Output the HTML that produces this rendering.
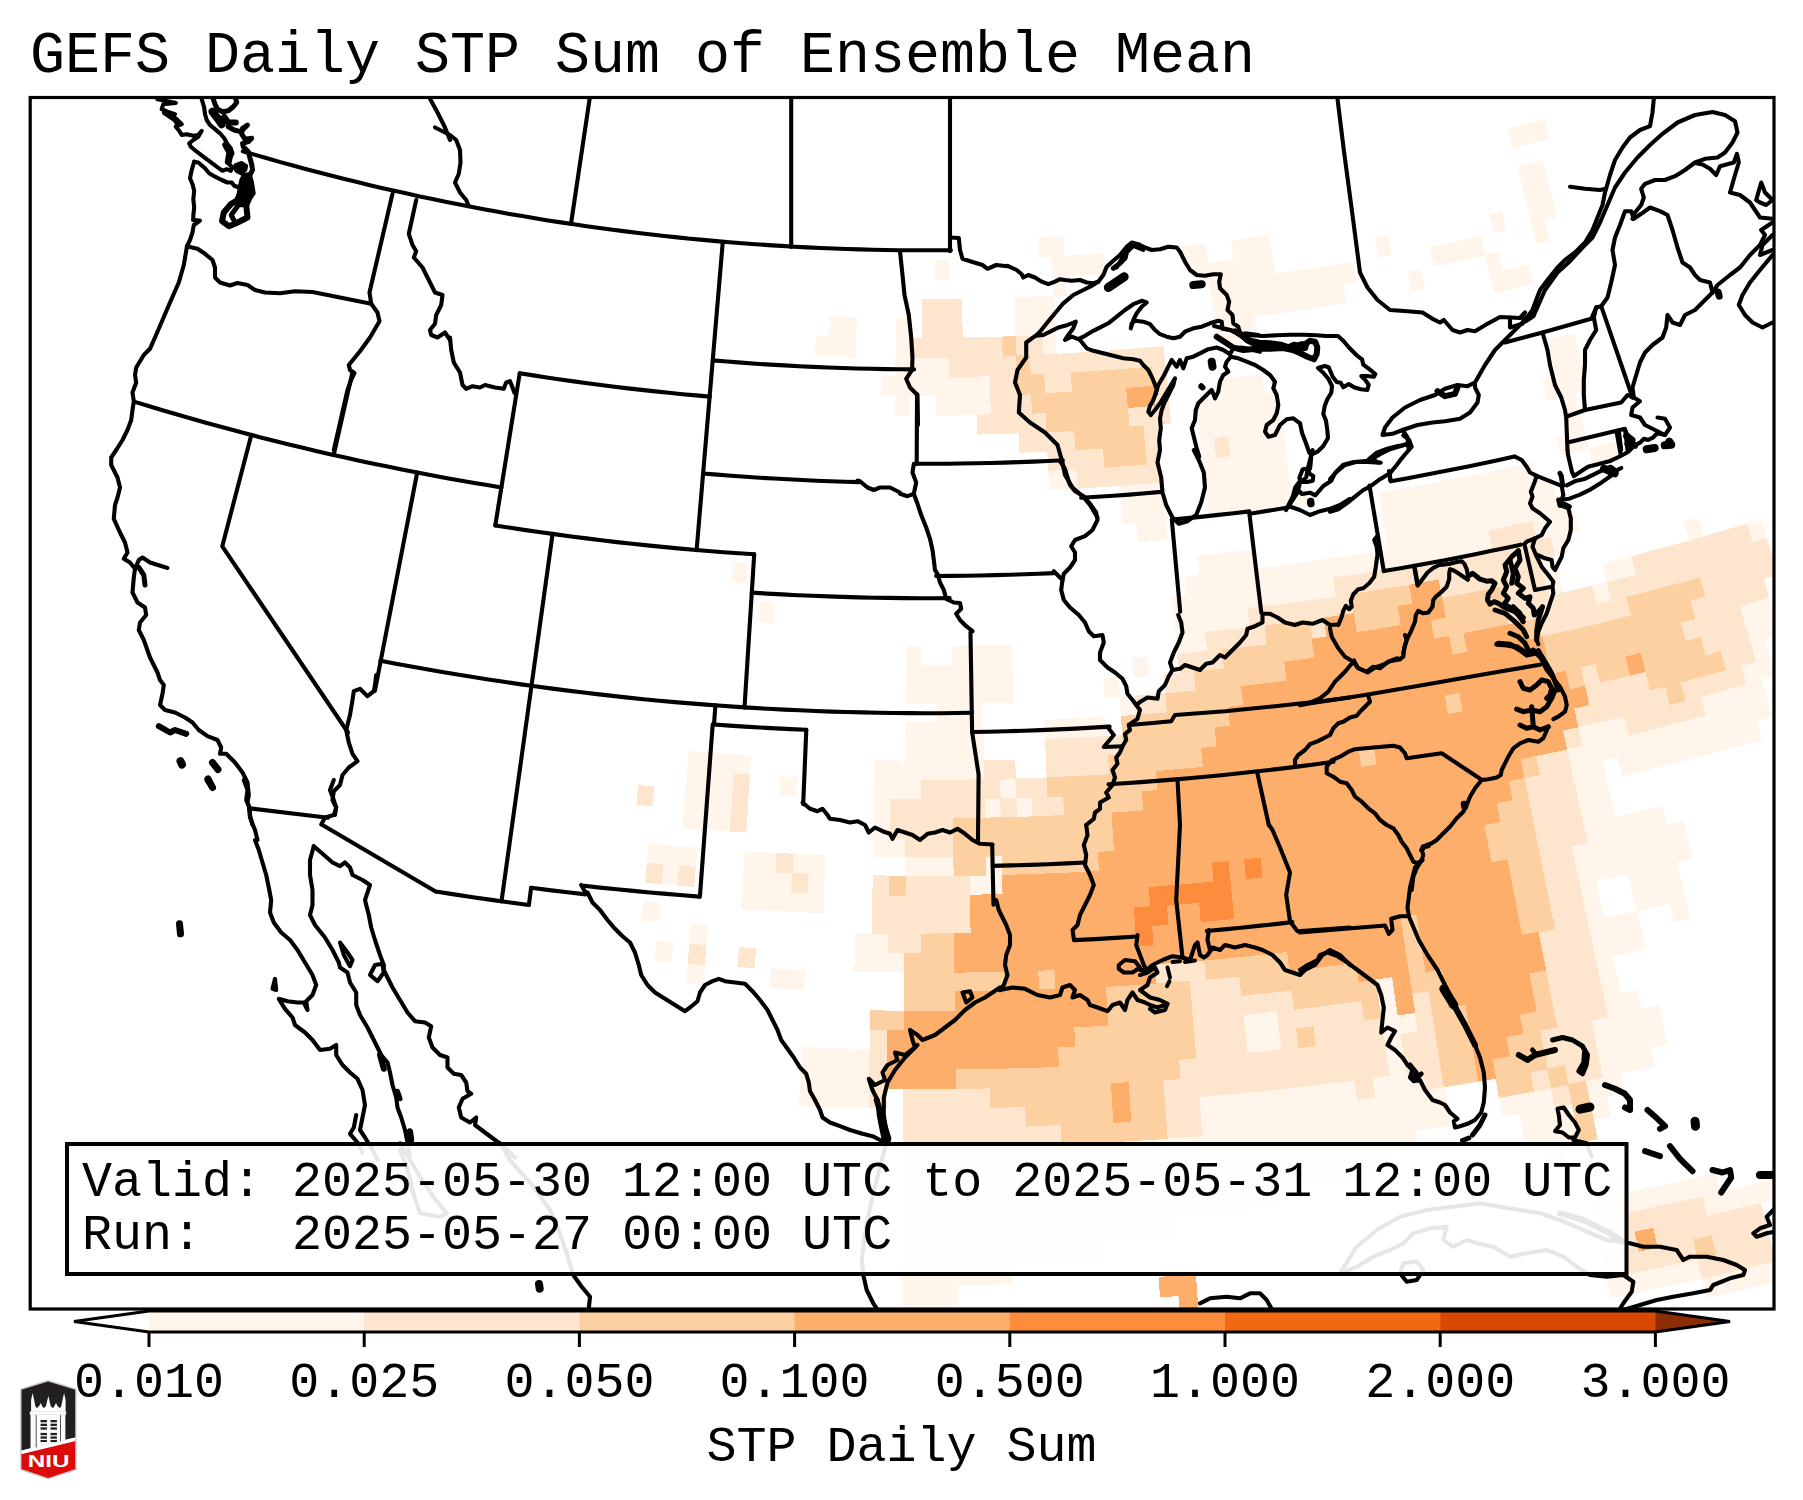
<!DOCTYPE html>
<html><head><meta charset="utf-8"><title>GEFS Daily STP Sum of Ensemble Mean</title>
<style>
html,body{margin:0;padding:0;background:#fff;}
body{width:1803px;height:1500px;overflow:hidden;}
svg{display:block;}
text{font-family:"Liberation Mono",monospace;fill:#000;white-space:pre;}
.b{fill:none;stroke:#000;stroke-width:4.1;stroke-linejoin:round;stroke-linecap:round;}
</style></head><body>
<svg width="1803" height="1500" viewBox="0 0 1803 1500">
<rect x="0" y="0" width="1803" height="1500" fill="#fff"/>
<text x="30" y="72.3" font-size="58.33">GEFS Daily STP Sum of Ensemble Mean</text>
<defs><clipPath id="mc"><rect x="30" y="97.5" width="1744" height="1211.5"/></clipPath></defs>
<g clip-path="url(#mc)">
<g id="fills" shape-rendering="crispEdges"><path fill="#fff5eb" d="M1701.9,1278.3L1775.5,1260.9L1780.5,1280.9L1706.4,1298.4ZM1606.2,1278.1L1679.3,1262.8L1752.0,1246.1L1770.7,1241.5L1775.6,1261.5L1702.6,1278.8L1629.2,1294.5L1610.2,1298.3ZM1602.4,1258.5L1675.0,1243.4L1747.3,1226.7L1765.9,1222.2L1770.8,1242.1L1698.2,1259.3L1625.2,1274.9L1606.4,1278.7ZM1178.4,1295.4L1197.3,1294.0L1198.9,1314.5L1179.9,1315.9ZM1598.5,1239.0L1670.7,1224.0L1742.6,1207.4L1761.1,1202.9L1766.1,1222.8L1693.8,1239.8L1621.3,1255.4L1602.5,1259.1ZM902.1,1284.6L957.7,1284.6L957.9,1305.0L901.9,1305.1ZM1158.6,1276.9L1195.8,1274.2L1197.4,1294.7L1160.0,1297.4ZM1594.7,1219.5L1666.5,1204.6L1738.0,1188.1L1774.1,1179.1L1779.2,1199.0L1707.5,1216.3L1635.4,1232.2L1598.7,1239.6ZM902.2,1264.8L975.2,1264.6L1012.2,1263.9L1012.7,1284.3L939.3,1285.3L902.1,1285.2ZM1590.9,1200.1L1662.3,1185.2L1716.2,1173.0L1720.9,1192.8L1649.3,1209.0L1594.8,1220.2ZM902.4,1245.1L974.9,1244.8L1047.4,1243.0L1102.3,1240.7L1103.3,1261.0L1030.4,1264.0L957.5,1265.4L902.2,1265.4ZM1604.8,1177.2L1623.1,1173.4L1627.3,1193.4L1608.9,1197.2ZM902.5,1225.4L974.6,1225.1L1046.7,1223.3L1118.7,1220.0L1173.2,1216.5L1174.7,1236.8L1102.3,1241.3L1029.9,1244.2L957.3,1245.7L902.4,1245.7ZM902.7,1205.7L974.3,1205.4L1046.0,1203.7L1117.6,1200.4L1189.1,1195.6L1260.5,1189.3L1278.9,1187.4L1281.0,1207.6L1209.2,1214.3L1137.3,1219.6L1065.3,1223.3L993.2,1225.4L921.1,1226.1L902.5,1226.0ZM1544.2,1148.8L1562.4,1145.4L1566.2,1165.4L1547.9,1168.8ZM902.8,1186.0L974.1,1185.8L1045.3,1184.1L1116.5,1180.8L1187.6,1176.0L1258.5,1169.7L1329.4,1161.9L1382.9,1155.0L1385.7,1175.1L1314.6,1184.1L1243.3,1191.6L1171.8,1197.5L1100.3,1202.0L1028.7,1204.9L957.0,1206.3L902.7,1206.3ZM1523.1,1132.8L1593.6,1119.2L1597.7,1139.1L1526.7,1152.7ZM903.0,1166.4L973.8,1166.2L1044.6,1164.5L1115.4,1161.2L1186.0,1156.5L1256.6,1150.2L1327.0,1142.5L1397.2,1133.2L1415.3,1130.6L1418.3,1150.6L1347.7,1160.3L1276.9,1168.5L1205.9,1175.2L1134.9,1180.3L1063.7,1184.0L992.5,1186.1L921.2,1186.8L902.8,1186.7ZM1519.6,1113.5L1589.2,1100.1L1607.1,1096.5L1611.2,1116.3L1541.3,1130.1L1523.2,1133.4ZM903.1,1146.9L973.5,1146.7L1043.9,1144.9L1114.3,1141.7L1184.5,1137.0L1254.7,1130.8L1324.7,1123.1L1394.5,1113.9L1447.3,1105.9L1450.4,1125.9L1380.4,1136.2L1310.1,1145.1L1239.6,1152.5L1169.0,1158.4L1098.3,1162.8L1027.5,1165.7L956.7,1167.0L902.9,1167.1ZM1498.8,1097.3L1568.0,1084.4L1620.3,1073.7L1624.6,1093.4L1555.1,1107.5L1502.3,1117.2ZM903.2,1127.4L973.2,1127.1L1043.2,1125.4L1113.2,1122.2L1183.0,1117.5L1252.7,1111.3L1322.3,1103.7L1391.7,1094.5L1444.2,1086.6L1447.4,1106.5L1377.7,1116.8L1307.8,1125.7L1237.8,1133.0L1167.6,1138.9L1097.3,1143.2L1026.9,1146.1L956.5,1147.5L903.1,1147.5ZM1495.4,1078.1L1564.3,1065.2L1632.8,1051.0L1650.4,1047.1L1654.9,1066.7L1586.0,1081.5L1516.8,1094.7L1498.9,1097.9ZM903.4,1107.9L973.0,1107.6L1042.5,1105.9L1112.1,1102.7L1181.5,1098.1L1250.8,1091.9L1320.0,1084.3L1389.0,1075.2L1457.8,1064.7L1526.3,1052.7L1594.6,1039.2L1663.1,1024.2L1667.6,1043.8L1599.2,1058.8L1530.6,1072.3L1461.6,1084.4L1392.4,1095.1L1323.0,1104.2L1253.4,1111.9L1183.6,1118.1L1113.8,1122.8L1043.8,1126.0L973.8,1127.7L903.2,1128.0ZM799.8,1086.0L868.9,1087.9L886.8,1088.2L886.5,1108.3L816.9,1106.7L799.0,1106.0ZM903.5,1088.4L972.7,1088.2L1041.9,1086.5L1111.0,1083.3L1180.0,1078.7L1248.9,1072.5L1317.7,1065.0L1386.2,1055.9L1454.6,1045.5L1522.8,1033.5L1590.6,1020.1L1658.7,1005.2L1663.3,1024.8L1595.3,1039.7L1527.0,1053.2L1458.4,1065.2L1389.6,1075.8L1320.6,1084.9L1251.4,1092.5L1182.1,1098.6L1112.7,1103.3L1043.1,1106.5L973.5,1108.2L903.4,1108.5ZM800.6,1066.5L869.3,1068.5L938.0,1069.0L1006.8,1068.1L1075.5,1065.6L1144.2,1061.8L1212.7,1056.4L1281.2,1049.6L1349.4,1041.4L1417.5,1031.7L1485.4,1020.5L1553.0,1007.9L1620.3,993.9L1637.6,990.1L1642.0,1009.6L1574.4,1024.1L1506.4,1037.2L1438.2,1048.7L1369.7,1058.9L1301.1,1067.6L1232.3,1074.8L1163.3,1080.5L1094.3,1084.8L1025.1,1087.6L956.0,1089.0L886.8,1088.8L817.6,1087.2L799.8,1086.6ZM801.3,1047.1L869.6,1049.1L938.0,1049.6L1006.3,1048.7L1074.6,1046.2L1142.9,1042.4L1211.0,1037.1L1279.0,1030.3L1346.9,1022.1L1414.6,1012.5L1482.0,1001.4L1549.2,988.9L1616.7,974.8L1621.0,994.4L1553.6,1008.4L1486.0,1021.0L1418.1,1032.2L1350.1,1041.9L1281.8,1050.2L1213.3,1057.0L1144.8,1062.3L1076.1,1066.2L1007.4,1068.7L938.6,1069.6L869.8,1069.1L800.5,1067.2ZM870.0,1029.7L937.9,1030.2L1005.9,1029.3L1073.8,1026.9L1141.6,1023.0L1209.3,1017.8L1276.9,1011.1L1344.4,1002.9L1411.6,993.3L1478.7,982.3L1545.5,969.9L1612.5,955.9L1616.8,975.4L1549.9,989.4L1482.7,1001.9L1415.2,1013.0L1347.5,1022.7L1279.7,1030.9L1211.6,1037.7L1143.5,1043.0L1075.2,1046.8L1006.9,1049.3L938.5,1050.2L869.6,1049.7ZM870.3,1010.4L937.9,1010.9L1005.4,1009.9L1072.9,1007.5L1140.3,1003.7L1207.6,998.5L1274.8,991.8L1341.8,983.7L1408.7,974.2L1475.3,963.2L1541.7,950.9L1607.8,937.1L1641.3,929.6L1645.8,949.0L1579.4,963.6L1512.7,976.8L1445.8,988.5L1378.6,998.8L1311.3,1007.7L1243.7,1015.2L1176.1,1021.2L1108.3,1025.7L1040.4,1028.9L972.4,1030.5L904.5,1030.8L870.0,1030.3ZM904.2,991.4L971.4,991.2L1038.4,989.6L1105.5,986.5L1172.5,982.0L1239.3,976.1L1306.0,968.7L1372.6,960.0L1438.9,949.8L1505.0,938.2L1570.9,925.2L1636.9,910.7L1641.4,930.2L1575.5,944.7L1509.2,957.7L1442.7,969.4L1375.9,979.7L1309.0,988.5L1241.8,995.9L1174.5,1001.9L1107.2,1006.4L1039.7,1009.5L972.2,1011.2L904.1,1011.4ZM1669.1,903.1L1685.9,899.0L1690.7,918.4L1673.8,922.5ZM687.8,963.0L705.0,964.3L703.6,984.2L686.3,982.9ZM771.0,968.3L804.9,969.8L804.1,989.7L770.0,988.2ZM904.4,972.1L971.1,971.9L1037.8,970.3L1104.4,967.2L1171.0,962.7L1237.4,956.9L1303.7,949.6L1369.8,940.9L1435.8,930.7L1501.5,919.2L1566.9,906.3L1600.1,899.2L1604.3,918.7L1538.6,932.4L1472.6,944.7L1406.4,955.6L1339.9,965.1L1273.3,973.1L1206.5,979.8L1139.6,985.0L1072.5,988.8L1005.5,991.2L938.3,992.1L904.2,992.1ZM1632.1,892.0L1681.3,880.3L1686.0,899.6L1636.6,911.5ZM656.3,941.1L673.3,942.5L671.7,962.4L654.5,960.9ZM689.3,943.8L706.3,945.1L704.9,964.9L687.8,963.7ZM738.9,947.2L756.0,948.2L754.9,968.1L737.7,967.1ZM854.8,952.1L921.1,952.9L987.4,952.3L1053.6,950.4L1119.9,947.0L1186.0,942.2L1252.0,936.0L1317.8,928.4L1383.5,919.4L1449.0,909.0L1514.2,897.2L1579.2,884.0L1595.9,880.4L1600.2,899.8L1534.9,913.5L1469.3,925.7L1403.5,936.5L1337.4,945.9L1271.2,953.9L1204.8,960.5L1138.3,965.7L1071.7,969.5L1005.0,971.9L938.3,972.8L871.6,972.3L854.3,972.0ZM1627.7,873.2L1676.6,861.5L1681.4,880.9L1632.2,892.6ZM690.8,924.6L707.7,925.8L706.3,945.7L689.2,944.4ZM855.3,932.8L921.1,933.6L987.0,933.1L1052.9,931.1L1118.7,927.7L1184.4,923.0L1250.0,916.8L1315.4,909.2L1380.7,900.3L1445.8,890.0L1510.6,878.2L1575.2,865.2L1639.4,850.7L1688.0,838.8L1692.8,858.1L1628.4,873.7L1563.6,887.9L1498.6,900.8L1433.3,912.2L1367.7,922.3L1302.0,931.0L1236.1,938.2L1170.0,944.1L1103.9,948.5L1037.6,951.6L971.4,953.2L905.0,953.5L854.8,952.7ZM643.3,901.2L660.1,902.8L658.4,922.6L641.5,921.0ZM872.1,913.9L937.5,914.4L1003.0,913.5L1068.4,911.1L1133.8,907.5L1199.1,902.4L1264.2,895.9L1329.2,888.0L1394.1,878.8L1458.7,868.2L1523.0,856.2L1587.1,842.9L1650.9,828.2L1683.2,820.2L1688.1,839.4L1624.1,854.9L1559.7,869.1L1495.0,881.8L1430.1,893.2L1365.0,903.2L1299.7,911.8L1234.2,919.0L1168.5,924.9L1102.8,929.3L1037.0,932.3L971.1,933.9L905.2,934.2L871.7,933.8ZM742.4,889.5L807.4,892.8L824.2,893.4L823.5,913.2L758.1,910.3L741.2,909.4ZM872.4,894.6L937.5,895.1L1002.5,894.2L1067.6,891.9L1132.5,888.3L1197.4,883.2L1262.1,876.8L1326.7,869.0L1391.1,859.8L1455.4,849.2L1519.3,837.3L1583.0,824.1L1646.4,809.4L1662.7,805.5L1667.5,824.7L1603.8,839.8L1539.7,853.5L1475.4,865.8L1410.9,876.8L1346.1,886.4L1281.1,894.6L1216.0,901.4L1150.7,906.9L1085.3,910.9L1019.9,913.6L954.4,914.9L889.0,914.8L872.1,914.5ZM646.9,862.9L695.7,867.1L694.2,886.9L645.0,882.7ZM743.6,870.3L808.1,873.6L824.8,874.2L824.1,894.0L759.1,891.1L742.4,890.2ZM872.8,875.4L937.4,875.9L1002.1,875.0L1066.7,872.7L1131.2,869.1L1195.7,864.0L1260.0,857.7L1324.2,849.9L1388.2,840.8L1452.0,830.3L1515.6,818.5L1578.9,805.3L1610.9,798.1L1615.4,817.4L1551.8,831.4L1488.0,844.0L1423.9,855.2L1359.6,865.1L1295.0,873.6L1230.4,880.7L1165.5,886.5L1100.6,890.8L1035.6,893.8L970.5,895.4L905.5,895.7L872.4,895.3ZM648.6,843.8L697.2,847.9L695.6,867.7L646.8,863.5ZM744.7,851.2L808.9,854.4L825.4,855.0L824.8,874.8L760.2,871.9L743.5,871.0ZM905.2,856.6L969.5,856.4L1033.7,854.8L1097.9,851.9L1162.0,847.6L1226.0,841.9L1289.8,834.9L1353.5,826.5L1417.0,816.7L1480.3,805.7L1543.4,793.2L1606.6,779.3L1611.1,798.7L1547.9,812.5L1484.5,825.1L1420.8,836.2L1356.9,846.0L1292.7,854.5L1228.5,861.6L1164.0,867.3L1099.5,871.6L1034.9,874.6L970.3,876.2L905.1,876.4ZM873.4,837.0L937.3,837.5L1001.1,836.6L1064.9,834.3L1128.7,830.7L1192.3,825.8L1255.8,819.5L1319.2,811.8L1382.4,802.8L1445.4,792.5L1508.2,780.8L1570.7,767.8L1602.3,760.6L1606.8,779.9L1544.0,793.7L1481.0,806.2L1417.7,817.3L1354.1,827.0L1290.4,835.4L1226.6,842.5L1162.5,848.1L1098.4,852.5L1034.2,855.4L970.0,857.0L905.7,857.2L873.1,856.8ZM1617.4,757.1L1679.3,741.8L1741.0,725.1L1756.8,720.6L1762.3,739.7L1700.3,756.8L1638.0,772.6L1621.9,776.4ZM683.8,808.3L747.5,812.9L746.3,832.6L682.1,828.1ZM873.8,817.8L937.2,818.3L1000.6,817.4L1064.0,815.2L1127.4,811.6L1190.6,806.7L1253.7,800.4L1316.7,792.8L1379.5,783.8L1442.1,773.6L1504.5,761.9L1566.6,749.0L1628.4,734.8L1689.9,719.2L1751.0,702.3L1766.7,697.8L1772.3,716.8L1710.8,734.1L1649.0,750.1L1586.9,764.8L1524.4,778.1L1461.7,790.2L1398.8,800.9L1335.6,810.2L1272.3,818.2L1208.8,824.9L1145.1,830.2L1081.4,834.2L1017.6,836.7L953.8,838.0L889.9,837.9L873.4,837.6ZM638.3,785.0L654.4,786.5L652.6,806.2L636.3,804.7ZM685.3,789.2L748.7,793.7L747.5,813.5L683.7,808.9ZM874.1,798.6L937.2,799.1L1000.2,798.2L1063.2,796.0L1126.1,792.4L1188.9,787.6L1251.6,781.3L1314.2,773.8L1376.6,764.9L1438.8,754.7L1500.7,743.1L1562.4,730.3L1623.9,716.1L1685.0,700.7L1745.7,683.9L1761.3,679.4L1766.9,698.4L1705.8,715.6L1644.4,731.5L1582.7,746.1L1520.6,759.3L1458.3,771.3L1395.8,781.9L1333.0,791.2L1270.1,799.2L1207.0,805.8L1143.7,811.1L1080.4,815.0L1017.0,817.6L953.6,818.8L890.2,818.7L873.8,818.4ZM686.9,770.1L749.9,774.6L748.7,794.3L685.3,789.8ZM780.6,776.3L796.8,777.0L795.9,796.8L779.6,796.0ZM874.5,779.5L937.1,779.9L999.7,779.1L1062.3,776.9L1124.8,773.3L1187.2,768.5L1249.5,762.3L1311.7,754.8L1373.7,745.9L1435.5,735.8L1497.0,724.3L1558.3,711.5L1619.3,697.5L1680.1,682.1L1740.4,665.5L1770.9,656.5L1776.6,675.5L1716.0,692.9L1655.1,709.0L1593.8,723.8L1532.2,737.4L1470.4,749.6L1408.3,760.5L1346.0,770.0L1283.5,778.3L1220.9,785.2L1158.1,790.7L1095.2,795.0L1032.2,797.9L969.2,799.4L906.1,799.7L874.1,799.3ZM688.5,751.0L751.0,755.5L749.8,775.2L686.8,770.7ZM874.8,760.3L937.0,760.8L999.2,759.9L1015.3,759.5L1015.9,779.2L953.3,780.4L890.6,780.3L874.5,780.1ZM1045.9,758.4L1108.0,755.2L1170.0,750.7L1232.0,744.9L1293.8,737.7L1355.4,729.3L1416.8,719.5L1478.1,708.5L1539.0,696.1L1599.7,682.5L1660.1,667.5L1720.2,651.3L1765.4,638.2L1771.1,657.1L1710.9,674.4L1650.4,690.4L1589.5,705.2L1528.3,718.6L1466.9,730.7L1405.2,741.5L1343.3,751.0L1281.2,759.2L1219.0,766.1L1156.6,771.6L1094.1,775.8L1046.7,778.1ZM906.1,741.5L967.9,741.3L983.8,741.1L984.2,760.8L922.0,761.4L905.9,761.3ZM1045.1,739.2L1106.8,736.1L1168.4,731.6L1230.0,725.8L1291.4,718.7L1352.6,710.3L1413.6,700.6L1474.5,689.7L1535.0,677.4L1595.3,663.8L1655.3,649.0L1715.0,632.9L1774.7,615.3L1780.5,634.2L1720.8,651.8L1660.7,668.0L1600.3,682.9L1539.6,696.6L1478.7,709.0L1417.4,720.1L1356.0,729.8L1294.3,738.3L1232.5,745.4L1170.6,751.3L1108.5,755.8L1045.9,759.0ZM906.2,722.4L967.6,722.2L983.4,721.9L983.8,741.7L922.0,742.2L906.1,742.1ZM1044.3,720.1L1106.1,716.9L1107.3,736.6L1045.1,739.8ZM1120.9,716.0L1182.2,711.2L1243.2,705.1L1304.2,697.8L1365.0,689.1L1425.6,679.1L1485.9,667.9L1546.0,655.4L1605.8,641.6L1665.4,626.5L1724.5,610.2L1769.2,597.0L1774.9,615.9L1715.6,633.3L1655.9,649.4L1595.9,664.3L1535.6,677.9L1475.1,690.2L1414.2,701.2L1353.2,710.9L1291.9,719.3L1230.5,726.4L1169.0,732.2L1122.3,735.7ZM936.8,703.3L983.1,702.8L983.5,722.5L936.9,723.0ZM1119.7,696.8L1180.5,692.1L1241.1,686.1L1301.7,678.8L1362.1,670.2L1422.2,660.3L1482.2,649.1L1541.9,636.7L1601.3,623.0L1660.5,608.0L1719.2,591.8L1763.6,578.7L1769.3,597.6L1710.4,614.9L1651.1,630.9L1591.5,645.7L1531.6,659.1L1471.4,671.3L1411.0,682.3L1350.4,691.9L1289.5,700.3L1228.5,707.3L1167.4,713.1L1121.0,716.6ZM906.5,684.1L967.1,683.9L1013.0,682.9L1013.6,702.6L952.6,703.8L906.3,703.8ZM1103.3,678.7L1118.9,677.7L1120.2,697.4L1104.5,698.4ZM1163.7,674.3L1224.0,668.7L1284.2,661.7L1344.2,653.5L1404.0,644.0L1463.6,633.2L1523.0,621.2L1582.1,607.9L1640.9,593.3L1699.4,577.5L1757.5,560.5L1772.5,555.9L1778.3,574.8L1719.9,592.3L1661.1,608.5L1602.0,623.5L1542.5,637.2L1482.8,649.6L1422.8,660.8L1362.6,670.7L1302.3,679.3L1241.7,686.6L1181.0,692.7L1165.3,694.0ZM906.6,664.9L966.8,664.7L1012.4,663.7L1013.0,683.5L952.4,684.6L906.5,684.7ZM1132.1,657.6L1147.6,656.4L1149.1,676.1L1133.5,677.3ZM1177.1,653.9L1237.0,648.0L1296.7,640.8L1356.3,632.3L1415.6,622.5L1474.8,611.5L1533.7,599.3L1592.3,585.7L1650.7,571.0L1708.7,555.0L1766.8,537.6L1772.6,556.5L1714.6,573.8L1656.2,590.0L1597.4,604.8L1538.4,618.5L1479.1,630.8L1419.5,641.9L1359.7,651.8L1299.8,660.3L1239.6,667.6L1178.8,673.6ZM906.8,645.7L922.2,645.8L922.2,665.6L906.6,665.5ZM951.6,645.7L1011.8,644.6L1012.4,664.3L951.8,665.5ZM1175.4,634.9L1234.9,629.0L1294.2,621.8L1353.4,613.4L1412.3,603.7L1471.1,592.7L1529.6,580.5L1559.2,573.9L1563.7,593.1L1504.9,606.1L1445.8,617.7L1386.6,628.1L1327.1,637.2L1267.4,645.1L1207.6,651.7L1177.1,654.6ZM1602.3,563.6L1660.2,548.6L1717.7,532.4L1761.1,519.3L1767.0,538.2L1709.3,555.4L1651.3,571.4L1607.1,582.8ZM1173.7,615.8L1232.8,609.9L1291.7,602.8L1350.5,594.4L1409.0,584.8L1467.4,573.9L1525.5,561.8L1554.9,555.2L1559.4,574.5L1501.0,587.3L1442.3,598.9L1383.4,609.2L1324.4,618.3L1265.1,626.1L1205.7,632.6L1175.4,635.5ZM1683.8,522.2L1698.5,518.0L1704.0,537.0L1689.2,541.2ZM759.8,602.4L775.0,603.3L773.9,623.1L758.6,622.2ZM1172.0,596.7L1230.7,590.9L1289.2,583.8L1347.5,575.5L1405.7,565.9L1463.7,555.1L1521.4,543.1L1564.9,533.2L1569.5,552.4L1511.6,565.5L1453.4,577.3L1395.0,587.8L1336.3,597.2L1277.5,605.2L1218.5,612.1L1173.8,616.4ZM1184.9,576.3L1243.1,570.2L1301.2,562.8L1359.1,554.3L1416.8,544.5L1474.3,533.4L1531.6,521.2L1574.8,511.1L1579.4,530.3L1522.0,543.6L1464.3,555.6L1406.3,566.4L1348.1,576.0L1289.7,584.3L1231.2,591.4L1186.7,596.0ZM733.1,562.2L748.1,563.2L746.8,583.0L731.7,582.0ZM1197.6,555.8L1255.8,549.3L1258.2,569.0L1199.5,575.5ZM1384.8,530.6L1442.0,520.3L1499.0,508.7L1555.7,496.0L1570.3,492.5L1574.9,511.7L1517.9,524.9L1460.5,536.8L1403.0,547.6L1388.1,550.1ZM1381.6,511.7L1438.4,501.4L1494.9,489.9L1551.7,477.2L1556.3,496.4L1499.5,509.2L1442.6,520.8L1384.9,531.2ZM1136.7,522.6L1165.7,520.2L1167.4,539.9L1138.2,542.4ZM1378.4,492.7L1434.8,482.6L1490.9,471.2L1533.3,461.7L1537.8,481.1L1481.4,493.4L1424.8,504.6L1381.7,512.3ZM1588.6,448.4L1616.8,441.1L1621.9,460.2L1593.5,467.6ZM1121.0,504.5L1164.0,501.0L1165.7,520.8L1122.4,524.3ZM1206.0,497.0L1262.6,490.5L1305.3,484.7L1308.1,504.3L1251.3,511.8L1208.1,516.7ZM1556.3,436.6L1584.3,429.6L1589.2,448.9L1560.9,455.9ZM1119.6,485.3L1162.3,481.9L1164.0,501.7L1121.0,505.1ZM1204.0,477.9L1260.1,471.4L1288.6,467.6L1291.3,487.3L1234.8,494.4L1206.1,497.6ZM1565.5,414.5L1579.6,411.0L1584.5,430.2L1570.2,433.8ZM1048.2,470.3L1104.2,467.1L1160.6,462.7L1162.3,482.5L1106.0,486.9L1049.1,490.1ZM1202.0,458.7L1257.7,452.3L1286.0,448.6L1288.7,468.2L1232.6,475.3L1204.1,478.5ZM1560.8,395.9L1574.9,392.3L1579.8,411.6L1565.6,415.1ZM1047.3,451.0L1102.9,447.9L1158.9,443.5L1160.6,463.3L1104.7,467.7L1048.3,470.9ZM1200.0,439.6L1255.3,433.2L1283.4,429.5L1286.1,449.2L1230.4,456.2L1202.1,459.3ZM1542.7,380.5L1583.6,370.2L1588.6,389.5L1547.4,399.8ZM1018.8,432.9L1074.1,430.4L1129.2,426.7L1157.2,424.3L1158.9,444.1L1103.4,448.5L1047.8,451.6L1019.5,452.8ZM1198.0,420.4L1252.9,414.0L1280.7,410.4L1283.4,430.1L1228.2,437.1L1200.1,440.2ZM1551.6,358.4L1578.8,351.5L1583.8,370.8L1556.4,377.8ZM977.0,414.7L1031.9,413.1L1086.7,410.3L1141.4,406.3L1169.1,403.9L1171.0,423.7L1115.9,428.3L1060.7,431.7L1005.5,433.9L977.4,434.6ZM1196.0,401.2L1250.5,394.9L1278.1,391.2L1280.8,411.0L1226.0,417.9L1198.1,421.0ZM1547.0,339.7L1574.0,332.9L1579.0,352.1L1551.7,359.0ZM895.0,395.7L909.0,395.8L908.9,415.8L894.7,415.6ZM935.8,395.9L990.3,395.1L1044.7,393.2L1099.1,390.1L1153.3,385.9L1167.3,384.6L1169.2,404.5L1114.5,409.0L1059.7,412.4L1004.9,414.7L950.1,415.7L935.9,415.8ZM1221.0,379.0L1262.0,373.9L1264.6,393.7L1223.3,398.8ZM881.7,376.1L935.8,376.5L989.8,375.8L1043.8,373.9L1097.8,370.8L1151.6,366.6L1165.5,365.3L1167.4,385.2L1113.1,389.8L1058.8,393.1L1004.3,395.3L949.9,396.4L895.4,396.3L881.4,396.1ZM895.5,356.9L949.1,357.1L1002.7,356.0L1056.3,353.9L1109.8,350.5L1163.7,346.1L1165.6,366.0L1111.7,370.5L1057.8,373.8L1003.8,376.0L949.7,377.0L895.2,376.9ZM815.9,335.3L856.3,336.7L855.7,356.8L815.1,355.3ZM895.7,337.5L948.9,337.7L1002.1,336.6L1055.7,334.5L1056.8,354.5L1003.2,356.6L949.5,357.7L895.5,357.6ZM1214.4,321.2L1254.4,316.3L1257.0,336.1L1216.7,341.1ZM1489.5,273.8L1528.8,264.4L1533.6,283.8L1494.0,293.3ZM830.0,316.4L856.8,317.3L856.2,337.4L829.2,336.4ZM896.0,318.1L909.6,318.2L909.5,338.3L895.7,338.2ZM922.4,318.3L962.4,318.1L962.7,338.1L922.3,338.4ZM1014.8,316.8L1054.7,315.0L1055.8,335.1L1015.5,336.8ZM1212.1,301.9L1264.5,295.3L1316.8,287.6L1343.2,283.2L1346.6,303.0L1294.0,311.4L1241.3,318.6L1214.4,321.9ZM1407.7,271.4L1421.1,268.7L1425.1,288.4L1411.6,291.1ZM1485.2,254.8L1498.4,251.7L1503.0,271.3L1489.7,274.4ZM922.4,298.8L962.1,298.6L962.4,318.7L922.4,318.9ZM1014.1,297.3L1053.7,295.6L1054.8,315.7L1014.8,317.4ZM1209.9,282.6L1261.9,276.0L1313.7,268.4L1352.9,261.8L1356.3,281.6L1304.2,290.2L1251.9,297.6L1212.2,302.5ZM1429.6,247.1L1481.2,235.8L1485.7,255.4L1433.7,266.8ZM1531.7,223.6L1544.8,220.2L1549.8,239.7L1536.6,243.0ZM1052.3,276.2L1065.7,275.4L1066.9,295.5L1053.4,296.2ZM1194.8,264.7L1246.4,258.4L1272.5,254.9L1275.4,274.8L1223.4,281.6L1197.0,284.7ZM1374.7,238.1L1387.8,235.6L1391.6,255.3L1378.3,257.9ZM1489.1,213.9L1502.1,210.8L1506.8,230.4L1493.7,233.5ZM1526.9,204.7L1552.5,198.1L1557.6,217.5L1531.9,224.2ZM935.4,259.8L948.7,259.7L948.9,279.9L935.5,280.0ZM1051.3,256.6L1103.2,253.4L1104.7,273.5L1052.4,276.8ZM1179.8,246.6L1205.8,243.8L1208.2,263.8L1181.9,266.7ZM1231.0,240.7L1269.8,235.5L1272.6,255.5L1233.6,260.7ZM1522.1,185.7L1547.5,179.2L1552.6,198.7L1527.1,205.3ZM1037.6,237.7L1063.5,236.4L1064.6,256.6L1038.5,257.9ZM1517.3,166.8L1542.5,160.2L1547.7,179.8L1522.3,186.3ZM1507.7,128.7L1544.6,119.0L1549.9,138.6L1512.7,148.4Z"/>
<path fill="#fee6ce" d="M1697.5,1258.8L1770.7,1241.5L1775.6,1261.5L1702.0,1278.9ZM1620.6,1254.9L1693.1,1239.4L1765.9,1222.2L1770.8,1242.1L1698.2,1259.3L1624.6,1275.0ZM1178.4,1295.4L1197.3,1294.0L1198.9,1314.5L1179.9,1315.9ZM1616.6,1235.4L1688.8,1220.0L1761.1,1202.9L1766.1,1222.8L1693.8,1239.8L1620.7,1255.5ZM1158.6,1276.9L1195.8,1274.2L1197.4,1294.7L1160.0,1297.4ZM1612.7,1215.9L1684.4,1200.6L1702.9,1196.4L1707.5,1216.3L1635.4,1232.2L1616.7,1236.0ZM1575.6,1122.8L1593.6,1119.2L1597.7,1139.1L1579.5,1142.7ZM1571.8,1103.6L1589.8,1100.0L1593.8,1119.8L1575.7,1123.5ZM1550.8,1087.8L1585.9,1080.8L1589.9,1100.6L1554.6,1107.6ZM903.2,1127.4L973.2,1127.1L1043.2,1125.4L1113.2,1122.2L1183.0,1117.5L1201.0,1116.1L1202.7,1136.1L1132.4,1141.2L1062.1,1144.9L991.7,1147.0L921.3,1147.6L903.1,1147.5ZM1495.4,1078.1L1564.3,1065.2L1599.1,1058.2L1603.2,1077.9L1534.1,1091.6L1498.9,1097.9ZM903.4,1107.9L973.0,1107.6L1042.5,1105.9L1112.1,1102.7L1181.5,1098.1L1199.4,1096.6L1201.1,1116.7L1131.2,1121.8L1061.3,1125.3L991.3,1127.4L921.3,1128.1L903.2,1128.0ZM1354.5,1079.9L1372.3,1077.6L1375.0,1097.5L1357.1,1099.9ZM1423.4,1070.1L1492.1,1058.9L1560.5,1046.1L1595.1,1039.1L1599.2,1058.8L1530.6,1072.3L1461.6,1084.4L1426.5,1090.0ZM868.9,1087.9L886.8,1088.2L886.5,1108.3L868.6,1108.0ZM903.5,1088.4L972.7,1088.2L1041.9,1086.5L1111.0,1083.3L1180.0,1078.7L1248.9,1072.5L1317.7,1065.0L1386.8,1055.9L1389.6,1075.8L1320.6,1084.9L1251.4,1092.5L1182.1,1098.6L1112.7,1103.3L1043.1,1106.5L973.5,1108.2L903.4,1108.5ZM1403.4,1053.5L1471.7,1042.6L1539.7,1030.3L1591.2,1020.0L1595.3,1039.7L1527.0,1053.2L1458.4,1065.2L1406.3,1073.3ZM869.3,1068.5L938.0,1069.0L1006.8,1068.1L1075.5,1065.6L1144.2,1061.8L1212.7,1056.4L1281.2,1049.6L1349.4,1041.4L1384.0,1036.6L1386.9,1056.5L1318.3,1065.5L1249.5,1073.1L1180.6,1079.2L1111.5,1083.9L1042.4,1087.1L973.3,1088.8L904.1,1089.0L868.9,1088.6ZM1400.5,1034.2L1468.4,1023.4L1536.1,1011.2L1604.0,997.4L1608.2,1017.1L1540.4,1030.8L1472.3,1043.1L1403.4,1054.1ZM869.6,1049.1L938.0,1049.6L1006.3,1048.7L1074.6,1046.2L1142.9,1042.4L1211.0,1037.1L1245.6,1033.8L1247.6,1053.8L1179.1,1059.8L1110.4,1064.5L1041.7,1067.6L973.0,1069.3L904.2,1069.6L869.3,1069.1ZM1279.0,1030.3L1346.9,1022.1L1381.3,1017.4L1384.1,1037.2L1315.9,1046.2L1281.2,1050.2ZM1414.6,1012.5L1482.0,1001.4L1549.2,988.9L1600.0,978.5L1604.1,998.1L1536.7,1011.7L1469.1,1024.0L1417.6,1032.3ZM870.0,1029.7L937.9,1030.2L1005.9,1029.3L1073.8,1026.9L1141.6,1023.0L1209.3,1017.8L1243.7,1014.5L1245.7,1034.4L1177.6,1040.5L1109.4,1045.1L1041.1,1048.2L972.7,1049.9L904.4,1050.2L869.6,1049.7ZM1276.9,1011.1L1344.4,1002.9L1378.6,998.2L1381.4,1018.0L1313.6,1027.0L1279.1,1030.9ZM1394.8,995.9L1461.9,985.2L1528.8,973.1L1595.9,959.5L1600.1,979.1L1533.1,992.7L1465.8,1004.8L1397.8,1015.6ZM870.3,1010.4L937.9,1010.9L1005.4,1009.9L1072.9,1007.5L1140.3,1003.7L1207.6,998.5L1274.8,991.8L1341.8,983.7L1375.8,979.0L1378.6,998.8L1311.3,1007.7L1243.7,1015.2L1176.1,1021.2L1108.3,1025.7L1040.4,1028.9L972.4,1030.5L904.5,1030.8L870.0,1030.3ZM1392.0,976.7L1458.7,966.1L1525.1,954.1L1591.8,940.6L1596.0,960.1L1529.4,973.6L1462.6,985.7L1394.9,996.5ZM904.2,991.4L971.4,991.2L1038.4,989.6L1105.5,986.5L1172.5,982.0L1239.3,976.1L1306.0,968.7L1372.6,960.0L1438.9,949.8L1505.0,938.2L1570.9,925.2L1587.8,921.7L1592.0,941.2L1525.8,954.6L1459.3,966.6L1392.6,977.2L1325.7,986.4L1258.6,994.2L1191.4,1000.5L1124.0,1005.4L1056.6,1008.9L989.1,1010.9L921.5,1011.5L904.1,1011.4ZM904.4,972.1L971.1,971.9L1037.8,970.3L1104.4,967.2L1171.0,962.7L1237.4,956.9L1303.7,949.6L1369.8,940.9L1435.8,930.7L1501.5,919.2L1566.9,906.3L1583.8,902.8L1587.9,922.3L1522.1,935.6L1456.1,947.6L1389.8,958.1L1323.3,967.2L1256.6,974.9L1189.8,981.2L1122.8,986.1L1055.8,989.5L988.7,991.6L921.6,992.1L904.2,992.1ZM689.3,943.8L706.3,945.1L704.9,964.9L687.8,963.7ZM738.9,947.2L756.0,948.2L754.9,968.1L737.7,967.1ZM904.5,952.8L970.8,952.6L1037.1,951.0L1103.3,947.9L1169.5,943.5L1235.5,937.7L1301.4,930.4L1367.1,921.7L1432.6,911.7L1497.9,900.3L1563.0,887.4L1579.7,883.9L1583.9,903.4L1518.5,916.6L1452.9,928.5L1387.0,939.0L1320.9,948.1L1254.6,955.7L1188.2,962.0L1121.6,966.8L1055.0,970.2L988.3,972.2L921.6,972.8L904.4,972.7ZM888.2,933.4L954.1,933.5L1019.9,932.3L1085.8,929.6L1151.5,925.5L1217.2,920.1L1282.7,913.2L1348.1,904.9L1413.3,895.3L1478.2,884.3L1542.9,871.9L1575.7,865.0L1579.9,884.5L1514.9,897.7L1449.6,909.5L1384.1,919.9L1318.4,928.9L1252.6,936.5L1186.6,942.7L1120.4,947.6L1054.2,951.0L987.9,952.9L921.6,953.5L887.9,953.3ZM872.1,913.9L937.5,914.4L1003.0,913.5L1068.4,911.1L1133.8,907.5L1199.1,902.4L1264.2,895.9L1329.2,888.0L1394.1,878.8L1458.7,868.2L1523.0,856.2L1571.7,846.2L1575.8,865.7L1511.2,878.8L1446.4,890.5L1381.3,900.8L1316.0,909.8L1250.6,917.4L1185.0,923.5L1119.2,928.3L1053.4,931.7L987.6,933.7L921.7,934.3L871.7,933.8ZM872.4,894.6L937.5,895.1L1002.5,894.2L1067.6,891.9L1132.5,888.3L1197.4,883.2L1262.1,876.8L1326.7,869.0L1391.1,859.8L1455.4,849.2L1519.3,837.3L1583.5,824.0L1587.8,843.3L1523.7,856.7L1459.3,868.7L1394.7,879.3L1329.8,888.6L1264.8,896.5L1199.7,902.9L1134.4,908.0L1069.0,911.7L1003.5,914.1L938.1,915.0L872.1,914.5ZM646.9,862.9L663.5,864.4L661.7,884.2L645.0,882.7ZM679.1,865.7L695.7,867.1L694.2,886.9L677.4,885.5ZM792.0,872.9L808.6,873.6L807.9,893.4L791.1,892.7ZM872.8,875.4L937.4,875.9L970.3,875.6L970.5,895.4L905.5,895.7L872.4,895.3ZM1002.1,875.0L1066.7,872.7L1131.2,869.1L1195.7,864.0L1260.0,857.7L1324.2,849.9L1388.2,840.8L1452.0,830.3L1515.6,818.5L1579.4,805.2L1583.7,824.6L1520.0,837.8L1456.0,849.8L1391.8,860.3L1327.3,869.5L1262.7,877.3L1198.0,883.8L1133.1,888.8L1068.1,892.5L1002.6,894.8ZM776.8,852.9L793.3,853.7L792.5,873.5L775.8,872.7ZM953.4,856.6L986.0,856.1L986.4,875.9L953.6,876.4ZM1001.6,855.8L1065.8,853.5L1129.9,849.9L1194.0,844.9L1257.9,838.6L1321.7,830.8L1385.3,821.8L1448.7,811.4L1511.9,799.6L1575.3,786.4L1579.5,805.8L1516.2,819.0L1452.7,830.8L1388.8,841.3L1324.8,850.4L1260.6,858.2L1196.3,864.6L1131.8,869.6L1067.2,873.3L1002.1,875.6ZM905.4,837.4L969.2,837.2L1033.0,835.6L1096.8,832.7L1160.5,828.4L1224.1,822.8L1287.5,815.8L1350.8,807.5L1413.9,797.8L1476.8,786.8L1539.5,774.4L1571.2,767.6L1575.4,787.0L1512.5,800.1L1449.3,811.9L1385.9,822.3L1322.3,831.4L1258.5,839.1L1194.6,845.5L1130.5,850.5L1066.3,854.1L1002.1,856.4L937.9,857.3L905.2,857.2ZM731.2,811.8L747.5,812.9L746.3,832.6L729.9,831.6ZM889.7,818.1L953.1,818.2L1016.5,817.0L1079.9,814.4L1143.2,810.5L1206.4,805.2L1269.5,798.6L1332.4,790.7L1395.2,781.4L1457.7,770.8L1520.0,758.8L1567.0,748.9L1571.3,768.2L1508.8,781.3L1446.0,793.0L1383.0,803.3L1319.8,812.4L1256.4,820.0L1192.9,826.3L1129.2,831.3L1065.5,834.9L1001.6,837.2L937.8,838.1L889.4,837.9ZM638.3,785.0L654.4,786.5L652.6,806.2L636.3,804.7ZM732.5,792.7L748.7,793.7L747.5,813.5L731.2,812.5ZM889.9,798.9L952.9,799.0L984.9,798.6L985.3,818.4L921.9,818.9L889.6,818.7ZM1000.2,798.2L1016.4,797.8L1017.0,817.6L1000.7,818.0ZM1031.7,797.3L1094.6,794.4L1157.5,790.2L1220.3,784.6L1282.9,777.7L1345.4,769.5L1407.7,759.9L1469.8,749.1L1531.6,736.9L1578.3,726.7L1582.7,746.1L1520.6,759.3L1458.3,771.3L1395.8,781.9L1333.0,791.2L1270.1,799.2L1207.0,805.8L1143.7,811.1L1080.4,815.0L1032.4,817.1ZM1623.9,716.1L1685.0,700.7L1700.7,696.5L1705.8,715.6L1644.4,731.5L1628.5,735.4ZM733.7,773.6L749.9,774.6L748.7,794.3L732.4,793.3ZM921.4,779.9L984.1,779.4L1000.2,779.0L1000.7,798.8L937.7,799.7L921.4,799.7ZM1015.4,778.6L1077.9,776.1L1140.4,772.2L1202.8,767.0L1265.1,760.5L1327.2,752.7L1389.2,743.5L1450.9,733.0L1512.4,721.2L1573.6,708.2L1634.6,693.8L1695.2,678.1L1740.9,665.3L1746.4,684.3L1685.6,701.1L1624.5,716.6L1563.1,730.8L1501.4,743.6L1439.4,755.2L1377.2,765.4L1314.8,774.3L1252.2,781.9L1189.5,788.1L1126.6,793.0L1063.7,796.6L1015.9,798.4ZM983.7,760.2L1015.3,759.5L1015.9,779.2L984.1,780.0ZM1045.9,758.4L1108.0,755.2L1170.0,750.7L1232.0,744.9L1293.8,737.7L1355.4,729.3L1416.8,719.5L1478.1,708.5L1539.0,696.1L1599.7,682.5L1660.1,667.5L1720.2,651.3L1750.5,642.6L1756.1,661.6L1695.8,678.5L1635.2,694.2L1574.2,708.6L1513.0,721.7L1451.5,733.5L1389.7,744.0L1327.8,753.2L1265.7,761.1L1203.4,767.6L1141.0,772.8L1078.5,776.7L1046.7,778.1ZM1045.1,739.2L1106.8,736.1L1168.4,731.6L1230.0,725.8L1291.4,718.7L1352.6,710.3L1413.6,700.6L1474.5,689.7L1535.0,677.4L1595.3,663.8L1655.3,649.0L1715.0,632.9L1745.1,624.2L1750.7,643.2L1690.8,660.0L1630.6,675.6L1570.0,689.9L1509.2,703.0L1448.1,714.7L1386.7,725.1L1325.2,734.2L1263.5,742.0L1201.6,748.5L1139.6,753.7L1077.5,757.5L1045.9,759.0ZM1120.9,716.0L1182.2,711.2L1243.2,705.1L1304.2,697.8L1365.0,689.1L1425.6,679.1L1485.9,667.9L1546.0,655.4L1605.8,641.6L1665.4,626.5L1724.5,610.2L1739.7,605.8L1745.3,624.8L1685.8,641.5L1626.0,657.0L1565.8,671.2L1505.4,684.2L1444.7,695.8L1383.7,706.2L1322.6,715.2L1261.3,723.0L1199.8,729.4L1138.2,734.6L1122.3,735.7ZM1134.9,695.8L1195.6,690.7L1256.3,684.4L1316.8,676.7L1377.1,667.8L1437.3,657.6L1497.2,646.1L1556.8,633.4L1616.1,619.4L1675.2,604.1L1733.9,587.6L1763.6,578.7L1769.3,597.6L1710.4,614.9L1651.1,630.9L1591.5,645.7L1531.6,659.1L1471.4,671.3L1411.0,682.3L1350.4,691.9L1289.5,700.3L1228.5,707.3L1167.4,713.1L1136.3,715.5ZM1163.7,674.3L1224.0,668.7L1284.2,661.7L1344.2,653.5L1404.0,644.0L1463.6,633.2L1523.0,621.2L1582.1,607.9L1640.9,593.3L1699.4,577.5L1757.5,560.5L1772.5,555.9L1778.3,574.8L1719.9,592.3L1661.1,608.5L1602.0,623.5L1542.5,637.2L1482.8,649.6L1422.8,660.8L1362.6,670.7L1302.3,679.3L1241.7,686.6L1181.0,692.7L1165.3,694.0ZM1177.1,653.9L1237.0,648.0L1296.7,640.8L1356.3,632.3L1415.6,622.5L1474.8,611.5L1533.7,599.3L1592.8,585.6L1597.4,604.8L1538.4,618.5L1479.1,630.8L1419.5,641.9L1359.7,651.8L1299.8,660.3L1239.6,667.6L1178.8,673.6ZM1606.9,582.2L1665.2,567.1L1723.1,550.8L1766.8,537.6L1772.6,556.5L1714.6,573.8L1656.2,590.0L1611.7,601.4ZM1205.1,632.1L1264.5,625.5L1323.8,617.7L1382.9,608.7L1441.7,598.4L1500.4,586.8L1544.6,577.2L1549.0,596.5L1490.1,609.1L1431.0,620.4L1371.7,630.5L1312.2,639.3L1252.5,646.9L1207.1,651.7ZM1631.3,556.2L1689.0,540.7L1746.8,523.7L1752.6,542.6L1694.8,559.6L1636.3,575.4ZM1247.5,608.2L1306.4,600.8L1365.1,592.1L1423.6,582.2L1481.9,571.0L1540.4,558.5L1544.8,577.8L1486.3,590.3L1427.6,601.6L1368.7,611.6L1309.6,620.3L1249.8,627.9ZM1333.0,577.7L1391.2,568.4L1449.2,557.9L1507.0,546.2L1550.6,536.5L1555.0,555.8L1497.1,568.5L1438.8,580.0L1380.3,590.3L1335.9,597.2ZM1488.6,530.5L1532.0,521.1L1536.4,540.4L1492.7,549.9ZM1076.2,468.8L1132.2,465.1L1160.6,462.7L1162.3,482.5L1106.0,486.9L1077.4,488.7ZM1047.3,451.0L1102.9,447.9L1158.9,443.5L1160.6,463.3L1104.7,467.7L1048.3,470.9ZM1213.9,438.1L1228.1,436.5L1230.4,456.2L1216.0,457.8ZM1018.8,432.9L1074.1,430.4L1129.2,426.7L1157.2,424.3L1158.9,444.1L1103.4,448.5L1047.8,451.6L1019.5,452.8ZM977.0,414.7L1031.9,413.1L1086.7,410.3L1141.4,406.3L1169.1,403.9L1171.0,423.7L1115.9,428.3L1060.7,431.7L1005.5,433.9L977.4,434.6ZM990.3,395.1L1044.7,393.2L1099.1,390.1L1153.3,385.9L1167.3,384.6L1169.2,404.5L1114.5,409.0L1059.7,412.4L1004.9,414.7L990.8,415.0ZM989.8,375.8L1043.8,373.9L1097.8,370.8L1151.6,366.6L1165.5,365.3L1167.4,385.2L1113.1,389.8L1058.8,393.1L1004.3,395.3L990.3,395.7ZM949.1,357.1L1002.7,356.0L1056.3,353.9L1109.8,350.5L1163.7,346.1L1165.6,366.0L1111.7,370.5L1057.8,373.8L1003.8,376.0L949.3,377.1ZM909.0,337.7L962.2,337.5L1015.4,336.2L1042.5,335.1L1043.4,355.1L989.8,357.0L936.1,357.8L908.9,357.7ZM922.4,318.3L962.4,318.1L962.7,338.1L922.3,338.4ZM922.4,298.8L962.1,298.6L962.4,318.7L922.4,318.9Z"/>
<path fill="#fdd0a2" d="M1693.1,1239.4L1711.8,1235.1L1716.4,1255.1L1697.6,1259.4ZM1178.4,1295.4L1197.3,1294.0L1198.9,1314.5L1179.9,1315.9ZM1634.7,1231.7L1653.3,1227.7L1657.6,1247.8L1638.9,1251.8ZM1158.6,1276.9L1195.8,1274.2L1197.4,1294.7L1160.0,1297.4ZM1575.6,1122.8L1593.6,1119.2L1597.7,1139.1L1579.5,1142.7ZM1571.8,1103.6L1589.8,1100.0L1593.8,1119.8L1575.7,1123.5ZM1568.0,1084.4L1585.9,1080.8L1589.9,1100.6L1572.0,1104.2ZM1060.7,1124.7L1130.6,1121.2L1166.1,1118.8L1167.6,1138.9L1097.3,1143.2L1061.5,1144.9ZM1495.4,1078.1L1530.4,1071.7L1534.1,1091.6L1498.9,1097.9ZM1547.1,1068.6L1564.8,1065.1L1568.7,1084.9L1550.9,1088.4ZM1025.2,1106.5L1094.7,1103.7L1164.7,1099.3L1166.2,1119.4L1096.3,1123.7L1025.8,1126.6ZM1440.6,1067.5L1509.2,1055.8L1544.0,1049.3L1547.8,1069.1L1478.9,1081.6L1443.8,1087.3ZM990.0,1087.9L1059.1,1085.8L1128.2,1082.3L1163.3,1079.9L1164.7,1099.9L1095.3,1104.3L1025.7,1107.1L990.4,1108.0ZM1437.5,1048.2L1505.7,1036.6L1540.3,1030.2L1544.1,1049.9L1475.6,1062.3L1440.7,1068.1ZM886.5,1068.8L955.2,1068.9L1024.0,1067.6L1092.7,1064.8L1161.3,1060.6L1179.0,1059.2L1180.6,1079.2L1111.5,1083.9L1042.4,1087.1L973.3,1088.8L904.1,1089.0L886.2,1088.8ZM1434.5,1029.0L1502.3,1017.5L1553.5,1007.8L1557.4,1027.5L1489.4,1040.2L1437.6,1048.8ZM886.7,1049.4L955.1,1049.5L1023.4,1048.2L1091.7,1045.4L1159.9,1041.2L1194.5,1038.5L1196.2,1058.5L1127.6,1063.5L1058.9,1067.0L990.2,1069.0L921.4,1069.6L886.5,1069.4ZM1296.0,1028.4L1313.5,1026.3L1315.9,1046.2L1298.3,1048.3ZM1431.4,1009.8L1498.8,998.4L1549.7,988.8L1553.6,1008.4L1486.0,1021.0L1434.6,1029.6ZM887.0,1030.0L954.9,1030.1L1022.8,1028.8L1090.7,1026.1L1158.5,1021.9L1192.9,1019.2L1194.6,1039.1L1126.4,1044.1L1058.1,1047.6L989.8,1049.6L921.4,1050.2L886.7,1050.0ZM1361.2,1000.6L1378.6,998.2L1381.4,1018.0L1363.9,1020.5ZM1394.8,995.9L1412.2,993.2L1415.2,1013.0L1397.8,1015.6ZM1428.4,990.7L1495.4,979.3L1546.0,969.8L1549.9,989.4L1482.7,1001.9L1431.5,1010.5ZM870.3,1010.4L937.9,1010.9L1005.4,1009.9L1072.9,1007.5L1140.3,1003.7L1191.3,999.9L1193.0,1019.8L1125.2,1024.7L1057.3,1028.2L989.4,1030.3L921.5,1030.8L870.0,1030.3ZM1291.6,989.9L1358.6,981.5L1375.8,979.0L1378.6,998.8L1311.3,1007.7L1293.9,1009.8ZM1392.0,976.7L1458.7,966.1L1525.1,954.1L1542.2,950.8L1546.1,970.4L1479.3,982.8L1412.3,993.9L1394.9,996.5ZM904.2,991.4L971.4,991.2L1038.4,989.6L1105.5,986.5L1172.5,982.0L1189.7,980.6L1191.4,1000.5L1124.0,1005.4L1056.6,1008.9L989.1,1010.9L921.5,1011.5L904.1,1011.4ZM1239.3,976.1L1306.0,968.7L1372.6,960.0L1438.9,949.8L1505.0,938.2L1538.5,931.8L1542.4,951.4L1476.0,963.8L1409.3,974.7L1342.5,984.2L1275.4,992.4L1241.3,995.9ZM904.4,972.1L971.1,971.9L1037.8,970.3L1104.4,967.2L1154.9,964.0L1156.3,983.8L1089.3,988.0L1022.2,990.7L955.1,992.0L904.2,992.1ZM1204.2,960.0L1270.6,953.4L1336.8,945.4L1402.8,936.0L1468.7,925.2L1534.2,913.0L1551.1,909.6L1555.1,929.1L1489.1,941.8L1423.0,953.0L1356.6,962.8L1290.0,971.3L1223.2,978.3L1206.0,979.8ZM904.5,952.8L970.8,952.6L1037.1,951.0L1103.3,947.9L1169.5,943.5L1235.5,937.7L1301.4,930.4L1367.1,921.7L1432.6,911.7L1497.9,900.3L1547.3,890.7L1551.2,910.2L1485.7,922.8L1419.9,933.9L1353.9,943.7L1287.7,952.1L1221.4,959.0L1154.9,964.6L1088.3,968.7L1021.7,971.4L954.9,972.7L904.4,972.7ZM921.1,933.6L987.0,933.1L1052.9,931.1L1118.7,927.7L1184.4,923.0L1250.0,916.8L1315.4,909.2L1380.7,900.3L1445.8,890.0L1510.6,878.2L1543.4,871.8L1547.4,891.3L1482.3,903.8L1416.9,914.9L1351.3,924.6L1285.5,932.9L1219.6,939.8L1153.5,945.3L1087.3,949.4L1021.1,952.1L954.8,953.4L921.1,953.5ZM970.3,914.1L1035.7,912.5L1101.1,909.5L1166.5,905.1L1231.7,899.3L1296.8,892.1L1361.7,883.6L1426.4,873.7L1490.9,862.4L1539.6,852.9L1543.6,872.4L1478.8,884.8L1413.9,895.8L1348.7,905.5L1283.3,913.7L1217.8,920.6L1152.1,926.1L1086.3,930.2L1020.5,932.9L970.6,934.0ZM970.0,894.8L1035.1,893.2L1100.1,890.3L1165.0,885.9L1229.8,880.2L1294.5,873.0L1359.0,864.5L1423.3,854.7L1487.4,843.5L1535.8,834.0L1539.7,853.5L1475.4,865.8L1410.9,876.8L1346.1,886.4L1281.1,894.6L1216.0,901.4L1150.7,906.9L1085.3,910.9L1019.9,913.6L970.3,914.7ZM888.9,875.7L905.6,875.8L905.5,895.7L888.7,895.5ZM1002.1,875.0L1066.7,872.7L1131.2,869.1L1195.7,864.0L1260.0,857.7L1324.2,849.9L1388.2,840.8L1452.0,830.3L1515.6,818.5L1532.0,815.2L1535.9,834.6L1472.0,846.9L1407.8,857.8L1343.5,867.3L1278.9,875.5L1214.2,882.3L1149.3,887.7L1084.4,891.7L1019.3,894.4L1002.6,894.8ZM953.4,856.6L986.0,856.1L986.4,875.9L953.6,876.4ZM1001.6,855.8L1065.8,853.5L1129.9,849.9L1194.0,844.9L1257.9,838.6L1321.7,830.8L1385.3,821.8L1448.7,811.4L1511.9,799.6L1528.1,796.4L1532.1,815.8L1468.6,828.0L1404.8,838.8L1340.8,848.3L1276.7,856.4L1212.4,863.1L1147.9,868.5L1083.4,872.5L1018.8,875.2L1002.1,875.6ZM953.2,837.4L1017.1,836.2L1080.9,833.6L1144.6,829.6L1208.2,824.3L1271.7,817.7L1335.0,809.7L1398.2,800.3L1461.1,789.7L1524.3,777.5L1528.3,797.0L1465.1,809.1L1401.8,819.8L1338.2,829.2L1274.5,837.3L1210.6,844.0L1146.5,849.4L1082.4,853.3L1018.2,855.9L953.4,857.2ZM953.1,818.2L1016.5,817.0L1079.9,814.4L1143.2,810.5L1206.4,805.2L1269.5,798.6L1332.4,790.7L1395.2,781.4L1457.7,770.8L1520.0,758.8L1536.0,755.5L1540.1,774.9L1477.4,787.3L1414.5,798.3L1351.4,808.0L1288.1,816.4L1224.7,823.4L1161.1,829.0L1097.3,833.3L1033.6,836.2L969.7,837.8L953.3,838.0ZM1063.2,796.0L1126.1,792.4L1188.9,787.6L1251.6,781.3L1314.2,773.8L1376.6,764.9L1438.8,754.7L1500.7,743.1L1562.9,730.2L1567.2,749.5L1505.1,762.4L1442.7,774.1L1380.1,784.4L1317.3,793.3L1254.3,800.9L1191.2,807.2L1127.9,812.2L1064.1,815.8ZM1046.6,777.5L1109.2,774.3L1171.6,769.8L1234.0,763.9L1296.2,756.8L1358.2,748.3L1420.0,738.4L1481.7,727.3L1543.0,714.9L1574.1,708.0L1578.5,727.3L1516.8,740.5L1454.9,752.4L1392.8,763.0L1330.4,772.2L1267.9,780.1L1205.2,786.7L1142.4,791.9L1079.4,795.8L1047.4,797.3ZM1664.9,686.1L1680.5,682.0L1685.6,701.1L1669.9,705.2ZM1108.0,755.2L1170.0,750.7L1232.0,744.9L1293.8,737.7L1355.4,729.3L1416.8,719.5L1478.1,708.5L1539.0,696.1L1585.1,685.9L1589.5,705.2L1528.3,718.6L1466.9,730.7L1405.2,741.5L1343.3,751.0L1281.2,759.2L1219.0,766.1L1156.6,771.6L1109.2,774.9ZM1645.0,671.4L1705.2,655.5L1720.6,651.2L1726.0,670.2L1665.5,686.5L1649.9,690.6ZM1122.2,735.1L1183.8,730.3L1245.3,724.2L1306.7,716.8L1367.9,708.0L1428.9,698.0L1489.6,686.7L1550.1,674.1L1580.7,667.2L1585.2,686.5L1524.4,699.8L1463.4,711.9L1402.1,722.6L1340.6,732.1L1278.9,740.2L1217.1,747.0L1155.1,752.5L1123.6,754.8ZM1595.3,663.8L1655.3,649.0L1700.6,636.9L1705.8,655.9L1645.7,671.8L1599.9,683.1ZM1120.9,716.0L1182.2,711.2L1243.2,705.1L1304.2,697.8L1365.0,689.1L1425.6,679.1L1485.9,667.9L1546.0,655.4L1605.8,641.6L1665.4,626.5L1680.7,622.4L1685.8,641.5L1626.0,657.0L1565.8,671.2L1505.4,684.2L1444.7,695.8L1383.7,706.2L1322.6,715.2L1261.3,723.0L1199.8,729.4L1138.2,734.6L1122.3,735.7ZM1165.3,693.4L1226.0,687.7L1286.6,680.7L1347.0,672.4L1407.2,662.9L1467.2,652.0L1527.0,639.9L1586.5,626.5L1645.7,611.9L1690.4,599.9L1695.6,619.0L1636.3,634.7L1576.6,649.1L1516.6,662.3L1456.4,674.2L1395.9,684.8L1335.2,694.1L1274.3,702.2L1213.3,708.9L1166.9,713.1ZM1193.9,671.6L1254.1,665.3L1314.2,657.8L1374.1,648.9L1433.9,638.8L1493.3,627.4L1538.3,617.9L1542.5,637.2L1482.8,649.6L1422.8,660.8L1362.6,670.7L1302.3,679.3L1241.7,686.6L1195.7,691.3ZM1626.2,597.1L1684.8,581.6L1699.9,577.4L1705.2,596.4L1646.3,612.3L1631.1,616.2ZM1222.0,649.6L1281.8,642.7L1341.4,634.5L1400.8,625.1L1460.0,614.4L1504.7,605.5L1508.8,624.8L1449.3,636.5L1389.7,647.0L1329.8,656.2L1269.7,664.1L1224.1,669.3ZM1264.5,625.5L1309.5,619.7L1312.2,639.3L1266.9,645.2ZM1323.8,617.7L1382.9,608.7L1441.7,598.4L1500.8,586.7L1504.9,606.1L1445.8,617.7L1386.6,628.1L1326.6,637.3ZM1350.5,594.4L1409.0,584.8L1438.7,579.4L1442.3,598.9L1383.4,609.2L1353.5,614.0ZM1102.9,447.9L1145.0,444.7L1146.7,464.5L1104.3,467.7ZM1074.1,430.4L1129.2,426.7L1143.4,425.5L1145.1,445.3L1089.5,449.4L1075.2,450.2ZM1045.6,412.5L1100.3,409.4L1128.1,407.4L1129.7,427.2L1074.5,431.0L1046.5,432.4ZM1031.1,393.8L1085.5,391.0L1139.8,387.1L1153.8,385.8L1155.5,405.7L1100.8,410.0L1046.0,413.1L1031.9,413.7ZM1016.8,375.0L1044.2,373.8L1045.2,393.8L1017.5,394.9ZM1070.8,372.5L1124.7,368.9L1152.1,366.6L1153.8,386.5L1099.5,390.7L1071.9,392.4ZM1016.1,355.6L1029.9,355.1L1030.8,375.0L1016.8,375.6ZM1002.1,336.6L1015.9,336.2L1016.6,356.2L1002.7,356.6Z"/>
<path fill="#fdae6b" d="M1178.4,1295.4L1197.3,1294.0L1198.9,1314.5L1179.9,1315.9ZM1634.7,1231.7L1653.3,1227.7L1657.6,1247.8L1638.9,1251.8ZM1158.6,1276.9L1195.8,1274.2L1197.4,1294.7L1160.0,1297.4ZM1112.1,1102.7L1130.0,1101.7L1131.2,1121.8L1113.2,1122.8ZM1474.9,1061.8L1492.6,1058.8L1496.1,1078.6L1478.3,1081.7ZM1111.0,1083.3L1128.8,1082.2L1130.0,1102.3L1112.1,1103.4ZM1471.7,1042.6L1506.3,1036.5L1509.9,1056.3L1475.0,1062.4ZM886.5,1068.8L955.8,1068.9L956.0,1089.0L886.2,1088.8ZM1468.4,1023.4L1519.7,1014.3L1523.4,1034.0L1471.8,1043.2ZM886.7,1049.4L955.1,1049.5L1023.4,1048.2L1058.1,1047.0L1058.9,1067.0L990.2,1069.0L921.4,1069.6L886.5,1069.4ZM1465.2,1004.3L1533.0,992.1L1536.7,1011.7L1468.5,1024.1ZM887.0,1030.0L954.9,1030.1L1022.8,1028.8L1074.3,1026.9L1075.2,1046.8L1006.9,1049.3L938.5,1050.2L886.7,1050.0ZM1394.8,995.9L1412.2,993.2L1415.2,1013.0L1397.8,1015.6ZM1445.2,988.0L1512.1,976.3L1529.3,973.0L1533.1,992.7L1465.8,1004.8L1448.4,1007.7ZM904.1,1010.8L971.6,1010.6L1039.1,1008.9L1107.1,1005.8L1108.3,1025.7L1040.4,1028.9L972.4,1030.5L903.9,1030.8ZM1392.0,976.7L1409.2,974.1L1412.3,993.9L1394.9,996.5ZM1442.0,968.9L1508.6,957.2L1542.2,950.8L1546.1,970.4L1479.3,982.8L1445.3,988.6ZM954.6,991.4L1021.7,990.1L1088.7,987.4L1106.0,986.5L1107.2,1006.4L1039.7,1009.5L972.2,1011.2L954.7,1011.4ZM1355.9,962.3L1406.3,955.0L1409.3,974.7L1358.7,982.1ZM1422.3,952.5L1488.5,941.2L1538.5,931.8L1542.4,951.4L1476.0,963.8L1425.5,972.2ZM1004.4,971.3L1038.3,970.3L1039.0,990.2L1004.9,991.2ZM1054.4,969.6L1121.0,966.2L1154.9,964.0L1156.3,983.8L1089.3,988.0L1055.2,989.6ZM1287.1,951.5L1353.3,943.2L1403.4,935.9L1406.4,955.6L1339.9,965.1L1289.4,971.3ZM1419.3,933.4L1485.1,922.2L1518.4,916.0L1522.1,935.6L1456.1,947.6L1422.4,953.1ZM954.2,952.8L1020.5,951.5L1086.8,948.8L1152.9,944.7L1219.0,939.2L1284.9,932.3L1350.7,924.0L1400.4,916.8L1403.5,936.5L1337.4,945.9L1271.2,953.9L1204.8,960.5L1138.3,965.7L1071.7,969.5L1005.0,971.9L954.4,972.7ZM1416.3,914.3L1481.6,903.2L1514.8,897.1L1518.5,916.6L1452.9,928.5L1419.4,934.0ZM954.1,933.5L1019.9,932.3L1085.8,929.6L1151.5,925.5L1217.2,920.1L1282.7,913.2L1348.1,904.9L1413.3,895.3L1478.2,884.3L1511.1,878.2L1514.9,897.7L1449.6,909.5L1384.1,919.9L1318.4,928.9L1252.6,936.5L1186.6,942.7L1120.4,947.6L1054.2,951.0L987.9,952.9L954.2,953.4ZM970.3,914.1L1035.7,912.5L1101.1,909.5L1166.5,905.1L1231.7,899.3L1296.8,892.1L1361.7,883.6L1426.4,873.7L1490.9,862.4L1507.5,859.2L1511.2,878.8L1446.4,890.5L1381.3,900.8L1316.0,909.8L1250.6,917.4L1185.0,923.5L1119.2,928.3L1053.4,931.7L987.6,933.7L970.6,934.0ZM970.0,894.8L1035.1,893.2L1100.1,890.3L1165.0,885.9L1229.8,880.2L1294.5,873.0L1359.0,864.5L1423.3,854.7L1487.9,843.4L1491.5,862.9L1427.0,874.2L1362.3,884.1L1297.4,892.7L1232.3,899.9L1167.0,905.7L1101.7,910.1L1036.3,913.1L970.3,914.7ZM1002.1,875.0L1066.7,872.7L1131.2,869.1L1195.7,864.0L1260.0,857.7L1324.2,849.9L1388.2,840.8L1452.0,830.3L1484.4,824.5L1488.0,844.0L1423.9,855.2L1359.6,865.1L1295.0,873.6L1230.4,880.7L1165.5,886.5L1100.6,890.8L1035.6,893.8L1002.6,894.8ZM1097.9,851.9L1162.0,847.6L1226.0,841.9L1289.8,834.9L1353.5,826.5L1417.0,816.7L1480.3,805.7L1496.6,802.6L1500.4,822.1L1436.7,833.6L1372.9,843.7L1308.8,852.5L1244.5,859.9L1180.2,866.0L1115.7,870.7L1099.0,871.7ZM1112.7,831.8L1176.4,827.1L1240.0,821.2L1303.4,813.9L1366.6,805.2L1429.7,795.2L1492.5,783.8L1508.7,780.7L1512.5,800.1L1449.3,811.9L1385.9,822.3L1322.3,831.4L1258.5,839.1L1194.6,845.5L1130.5,850.5L1114.0,851.5ZM1111.5,812.6L1174.8,808.0L1238.0,802.1L1301.0,794.8L1363.8,786.2L1426.5,776.2L1488.9,765.0L1520.5,758.7L1524.4,778.1L1461.7,790.2L1398.8,800.9L1335.6,810.2L1272.3,818.2L1208.8,824.9L1145.1,830.2L1112.8,832.4ZM1141.8,791.4L1204.6,786.1L1267.3,779.6L1329.8,771.7L1392.2,762.4L1454.3,751.9L1516.2,740.0L1562.9,730.2L1567.2,749.5L1505.1,762.4L1442.7,774.1L1380.1,784.4L1317.3,793.3L1254.3,800.9L1191.2,807.2L1143.2,811.1ZM1156.0,771.1L1218.4,765.5L1280.6,758.7L1342.7,750.5L1358.7,748.2L1361.6,767.8L1299.2,776.3L1236.5,783.6L1173.8,789.5L1157.6,790.8ZM1373.7,745.9L1435.5,735.8L1497.0,724.3L1558.3,711.5L1574.1,708.0L1578.5,727.3L1516.8,740.5L1454.9,752.4L1392.8,763.0L1376.7,765.5ZM1201.0,747.9L1262.9,741.5L1324.6,733.7L1386.1,724.6L1447.5,714.2L1508.6,702.5L1569.4,689.5L1585.1,685.9L1589.5,705.2L1528.3,718.6L1466.9,730.7L1405.2,741.5L1343.3,751.0L1281.2,759.2L1219.0,766.1L1202.9,767.6ZM1214.6,727.4L1276.0,720.6L1337.3,712.6L1398.4,703.2L1444.6,695.2L1448.1,714.7L1386.7,725.1L1325.2,734.2L1263.5,742.0L1216.6,747.1ZM1459.3,692.5L1519.9,680.6L1565.7,670.6L1570.0,689.9L1509.2,703.0L1462.9,712.0ZM1625.3,656.6L1640.8,652.7L1645.7,671.8L1630.1,675.7ZM1228.0,706.8L1289.0,699.7L1349.8,691.4L1410.4,681.8L1470.8,670.8L1531.0,658.6L1546.5,655.3L1550.7,674.6L1490.2,687.2L1429.5,698.5L1368.5,708.6L1307.3,717.3L1245.9,724.7L1230.0,726.4ZM1241.1,686.1L1301.7,678.8L1362.1,670.2L1422.2,660.3L1482.2,649.1L1542.4,636.6L1546.6,655.9L1486.5,668.4L1426.1,679.7L1365.6,689.6L1304.8,698.3L1243.3,705.7ZM1284.2,661.7L1344.2,653.5L1404.0,644.0L1449.2,635.9L1452.8,655.4L1392.8,665.9L1332.5,675.2L1286.6,681.3ZM1463.6,633.2L1523.5,621.1L1527.6,640.4L1467.4,652.6ZM1311.6,638.8L1371.1,630.0L1430.9,619.8L1434.4,639.3L1374.7,649.4L1314.3,658.4ZM1323.8,617.7L1353.8,613.3L1356.8,632.8L1326.6,637.3ZM1397.6,606.2L1442.2,598.3L1445.8,617.7L1400.9,625.7ZM1409.0,584.8L1438.7,579.4L1442.3,598.9L1412.4,604.3ZM1126.2,388.1L1153.8,385.8L1155.5,405.7L1127.8,408.0Z"/>
<path fill="#fd8d3c" d="M1135.1,926.7L1152.1,925.5L1153.5,945.3L1136.4,946.5ZM1133.8,907.5L1167.0,905.0L1168.5,924.9L1135.1,927.3ZM1199.1,902.4L1232.2,899.3L1234.2,919.0L1200.8,922.2ZM1148.7,887.1L1213.6,881.7L1230.3,880.1L1232.3,899.9L1167.0,905.7L1150.2,906.9ZM1211.8,862.6L1228.4,861.0L1230.4,880.7L1213.6,882.3ZM1244.0,859.4L1260.5,857.6L1262.7,877.3L1246.0,879.1Z"/></g>
<g id="lines" class="b"><path d="M193.2,220.0 L200.0,220.5 L193.8,225.0 L192.5,232.5 L190.0,240.0 L187.0,246.2"/>
<path d="M187.0,246.2 L197.5,248.8 L205.0,253.8 L212.5,260.0 L215.0,267.5 L215.0,277.5 L220.0,282.5 L230.0,285.5 L237.5,283.0 L247.5,285.0 L255.0,290.0 L265.0,292.5 L280.0,293.2 L295.0,291.2 L312.5,292.0 L371.2,303.8"/>
<path d="M187.0,246.2 L183.8,265.0 L178.8,282.5 L170.0,302.5 L162.5,320.0 L155.0,337.5 L150.0,348.8 L143.8,355.0 L136.2,367.5 L135.0,375.0 L136.2,382.5 L132.5,392.5 L133.8,401.2 L132.5,410.0 L131.2,420.0 L127.5,430.0 L122.5,440.0 L116.2,450.0"/>
<path d="M392.5,193.8 L369.5,292.5 L371.2,303.8"/>
<path d="M371.2,303.8 L377.5,312.5 L379.5,321.2 L370.0,337.5 L360.0,351.2 L348.8,365.0 L350.0,370.0 L354.5,373.0 L351.2,380.0 L347.5,390.0 L333.8,450.0"/>
<path d="M416.2,200.0 L408.8,233.8 L412.5,245.0 L416.2,251.2 L413.8,257.5 L422.5,267.5 L427.5,277.5 L435.0,292.5 L442.5,295.0 L441.2,305.0 L436.2,315.0 L435.0,323.8 L430.0,330.0 L431.2,335.0 L437.5,337.5 L445.0,332.5 L450.0,340.0"/>
<path d="M430.0,98.8 L437.5,112.5 L445.0,127.5 L450.0,140.0"/>
<path d="M435.0,127.5 L450.0,135.0 L456.2,140.0 L460.0,150.0 L460.5,162.5 L458.8,173.8 L455.0,182.5 L460.0,192.5 L466.2,200.0 L468.8,206.2"/>
<path d="M450.0,337.5 L451.2,350.0 L453.8,362.5 L460.0,372.5 L462.5,385.0 L466.2,388.8 L472.5,386.2 L480.0,387.5 L485.0,385.0 L495.0,387.5 L503.8,388.8 L506.2,382.5 L510.0,381.2 L512.5,387.5 L514.5,393.0"/>
<path d="M791.2,98.8 L791.2,247.0"/>
<path d="M950.0,95.0 L950.0,251.2"/>
<path d="M950.0,237.5 L958.8,238.0 L960.0,250.0 L962.5,258.8 L972.5,262.0 L982.5,265.0 L987.5,268.8 L996.2,265.0 L1007.5,266.2"/>
<path d="M900.0,251.2 L902.5,275.0 L904.5,295.0 L908.8,315.0 L911.2,337.5 L912.5,357.5 L912.0,370.0 L906.2,378.8 L910.0,387.5 L917.5,395.0 L918.0,425.0"/>
<path d="M1007.5,265.8 L1016.7,270.0 L1021.7,274.2 L1023.3,277.5 L1028.3,275.0 L1035.0,277.5 L1041.7,281.7 L1048.3,284.2 L1055.0,281.7 L1060.0,279.2 L1065.0,280.0 L1071.7,280.8 L1080.0,280.0 L1086.7,282.5 L1093.3,283.3 L1098.3,281.7"/>
<path d="M1035.8,335.8 L1040.0,331.7 L1046.7,323.3 L1055.0,313.3 L1063.3,303.3 L1073.3,295.0 L1083.3,290.0 L1091.7,285.8 L1098.3,281.7 L1103.3,275.0 L1106.7,266.7 L1113.3,260.8 L1120.0,255.0 L1126.7,246.7 L1131.7,242.5 L1138.3,244.2 L1145.0,247.5 L1151.7,250.0 L1160.0,249.2 L1168.3,246.7 L1176.7,247.5 L1180.0,251.7 L1185.0,261.7 L1190.0,270.0 L1196.7,275.0 L1205.0,275.8 L1213.3,274.2 L1220.8,274.2 L1219.2,281.7 L1220.0,288.3 L1226.7,295.0 L1229.2,301.7 L1227.5,310.0 L1232.5,315.0 L1233.3,323.3 L1238.3,326.7 L1240.0,333.3 L1245.0,336.7"/>
<path d="M1113.3,268.3 L1120.0,263.3 L1125.0,258.3 L1126.7,251.7 L1131.7,246.7" stroke-width="5"/>
<path d="M1116.7,267.5 L1124.2,254.2 L1133.3,245.8 L1143.3,250.0" stroke-width="4"/>
<path d="M1108.3,287.5 L1124.2,276.7" stroke-width="9"/>
<path d="M1193.3,285.0 L1201.7,284.2" stroke-width="8"/>
<path d="M1035.8,335.8 L1043.3,335.0 L1051.7,330.8 L1058.3,327.5 L1065.0,325.8 L1071.7,323.3 L1075.8,321.7 L1073.3,328.3 L1068.3,335.0 L1065.0,340.0 L1071.7,336.7 L1078.3,339.2 L1085.0,335.8 L1093.3,330.8 L1101.7,326.7 L1108.3,323.3 L1116.7,316.7 L1125.0,310.0 L1133.3,304.2 L1141.7,300.8 L1146.7,302.5 L1141.7,306.7 L1136.7,313.3 L1133.3,320.0 L1130.8,328.3 L1131.7,323.3 L1135.0,320.8 L1143.3,321.7 L1150.0,324.2 L1155.0,330.0 L1160.0,334.2 L1166.7,336.7 L1173.3,338.3 L1180.0,336.7 L1185.0,331.7 L1193.3,328.3 L1201.7,326.7 L1210.0,323.3 L1218.3,320.8 L1221.7,321.7 L1222.5,328.7 L1230.0,330.0 L1236.7,331.7 L1245.0,336.7"/>
<path d="M1240.0,333.3 L1246.7,340.0 L1253.3,343.3 L1260.0,346.7" stroke-width="6"/>
<path d="M1245.0,333.3 L1258.3,335.0"/>
<path d="M1080.0,340.0 L1086.7,348.3 L1093.3,350.8 L1103.3,353.3 L1113.3,355.8 L1123.3,358.3 L1133.3,359.2 L1140.0,360.8 L1143.3,365.0 L1148.3,370.0 L1151.7,376.7 L1154.2,382.5 L1156.7,389.2 L1155.8,393.3"/>
<path d="M1155.8,393.3 L1153.3,400.0 L1150.0,405.8 L1148.3,411.7 L1150.8,415.0 L1155.0,410.0 L1160.0,403.3 L1165.0,395.0 L1170.0,386.7 L1175.0,378.3 L1173.3,385.0 L1168.3,395.0 L1164.2,403.3 L1161.7,410.0 L1160.0,418.3 L1160.8,428.3 L1159.2,440.0 L1160.0,450.0"/>
<path d="M1155.8,393.3 L1158.3,385.0 L1164.2,375.0 L1168.3,366.7 L1171.7,360.0 L1176.7,366.7 L1180.0,360.0 L1183.3,368.3 L1186.7,358.3 L1193.3,356.7 L1200.0,353.3 L1208.3,349.2 L1216.7,347.5 L1223.3,350.0 L1230.0,354.2 L1233.3,348.3 L1241.7,347.5 L1250.0,349.2 L1260.0,351.7"/>
<path d="M1230.8,356.7 L1226.7,361.7 L1225.0,366.7 L1228.3,371.7 L1223.3,375.0 L1220.0,381.7 L1218.3,391.7 L1215.0,398.3 L1211.7,390.0 L1208.3,393.3 L1203.3,398.3 L1198.3,403.3 L1195.8,410.0 L1195.0,420.0 L1191.7,428.3 L1194.2,438.3 L1196.7,448.3 L1199.3,456.7"/>
<path d="M1211.7,361.7 L1212.5,366.7" stroke-width="8"/>
<path d="M1201.3,386.3 L1202.5,387.5" stroke-width="6"/>
<path d="M1230.8,356.7 L1238.3,358.3 L1246.7,361.7 L1255.0,365.0 L1263.3,370.0 L1270.0,375.0 L1275.0,381.7 L1273.3,388.3 L1276.7,395.0 L1278.3,405.0 L1276.7,413.3 L1273.3,420.0 L1266.7,425.0 L1265.0,431.7 L1268.3,436.7 L1275.0,435.0 L1280.0,425.0 L1286.7,419.2 L1293.3,418.3 L1300.0,423.3"/>
<path d="M1337.5,98.8 L1343.8,150.0 L1352.5,215.0 L1360.0,272.5 L1367.5,287.5 L1377.5,300.0 L1390.0,310.0 L1407.5,311.2 L1422.5,312.5 L1432.5,318.8 L1440.0,322.5 L1443.8,320.0 L1452.5,330.0 L1460.0,332.5 L1467.5,330.0 L1475.0,331.2 L1487.5,323.8 L1500.0,317.0 L1510.0,317.5 L1520.0,318.0 L1525.0,312.5"/>
<path d="M1510.0,317.5 L1510.0,327.5 L1522.5,323.8"/>
<path d="M1475.0,382.5 L1485.0,365.0 L1495.0,350.0 L1505.0,340.0 L1515.0,330.0 L1525.0,320.0 L1532.5,310.0 L1536.2,300.0 L1540.0,290.0 L1547.5,280.0 L1557.5,267.5 L1565.0,260.0 L1575.0,252.5 L1585.0,242.5 L1592.5,230.0 L1597.5,217.5 L1602.5,205.0 L1605.0,192.5 L1610.0,175.0 L1615.0,160.0 L1622.5,147.5 L1630.0,137.5 L1640.0,130.0 L1650.0,126.2 L1652.5,112.5 L1653.8,98.8"/>
<path d="M1525.0,320.0 L1532.5,315.0 L1536.2,305.0" stroke-width="7"/>
<path d="M1570.0,186.8 L1585.0,188.8 L1600.0,190.0 L1606.2,188.8"/>
<path d="M1536.2,310.0 L1545.0,290.0 L1557.5,272.5 L1570.0,261.2 L1582.5,247.5 L1592.5,237.5 L1600.0,222.5 L1607.5,205.0 L1615.0,187.5 L1625.0,172.5 L1637.5,157.5 L1650.0,145.0 L1662.5,133.8 L1677.5,122.5 L1695.0,115.0 L1712.5,112.0 L1725.0,115.0 L1735.0,121.2 L1737.5,132.5 L1732.5,142.5 L1725.0,152.5 L1717.5,157.5 L1705.0,158.8 L1695.0,162.5 L1685.0,170.0 L1675.0,176.2 L1665.0,180.0 L1655.0,180.0 L1645.0,183.8 L1641.2,188.8 L1643.8,197.5 L1641.2,205.0 L1635.0,212.5 L1632.5,218.8"/>
<path d="M1695.0,163.0 L1702.5,164.5 L1710.0,168.8 L1716.2,175.0 L1720.0,166.2 L1733.8,162.5 L1737.0,153.8 L1738.8,162.5 L1735.0,175.0 L1730.0,192.5 L1740.0,195.0 L1750.0,202.5 L1760.0,217.5 L1772.5,218.8"/>
<path d="M1596.2,307.5 L1601.2,306.2 L1607.5,297.5 L1611.2,282.5 L1615.0,265.0 L1612.5,250.0 L1615.0,237.5 L1620.0,225.0 L1625.0,211.2 L1631.2,211.2 L1633.8,218.8 L1641.2,213.8 L1650.0,207.5 L1660.0,211.2 L1667.5,215.0 L1672.5,230.0 L1677.5,247.5 L1682.5,262.5 L1690.0,267.5 L1695.0,275.0 L1700.0,280.0 L1710.0,282.5 L1712.5,292.5"/>
<path d="M1712.5,292.5 L1702.5,302.5 L1695.0,310.0 L1685.0,315.0 L1680.0,325.0 L1672.5,322.5 L1667.5,315.0 L1666.2,327.5 L1662.5,337.5 L1652.5,345.0 L1645.0,352.5 L1640.0,362.5 L1636.2,375.0 L1632.5,387.5 L1633.8,397.5 L1640.0,401.2 L1632.5,407.5 L1631.2,415.0 L1640.0,417.5 L1645.0,425.0 L1655.0,430.0 L1665.0,435.0 L1670.0,427.5 L1665.0,418.8 L1657.5,417.5"/>
<path d="M1601.2,306.2 L1632.5,397.5"/>
<path d="M1596.2,307.5 L1593.8,317.5 L1596.2,330.0 L1590.0,340.0 L1585.0,350.0 L1585.0,365.0 L1583.8,380.0 L1583.8,395.0 L1585.0,410.0"/>
<path d="M1505.0,342.5 L1542.5,332.5 L1591.2,318.8 L1596.2,307.5"/>
<path d="M1542.5,332.5 L1547.5,350.0 L1550.0,365.0 L1555.0,385.0 L1561.2,397.5 L1565.0,410.0 L1566.2,417.5 L1567.5,450.0"/>
<path d="M1567.5,416.2 L1585.0,410.0 L1621.2,402.5 L1627.5,395.0 L1632.5,397.5"/>
<path d="M1567.5,442.5 L1625.0,428.8 L1627.5,450.0"/>
<path d="M1618.8,430.5 L1621.2,450.0"/>
<path d="M1756.2,200.0 L1761.2,182.5 L1765.0,192.5 L1772.5,200.0 L1766.2,205.0 L1760.0,202.5 L1756.2,200.0"/>
<path d="M1712.5,292.5 L1717.5,285.0 L1730.0,275.0 L1740.0,267.5 L1750.0,255.0 L1760.0,245.0 L1765.0,235.0 L1761.2,230.0 L1772.5,222.5"/>
<path d="M1772.5,250.0 L1760.0,255.0 L1762.5,245.0 L1772.5,235.0"/>
<path d="M1772.5,255.0 L1760.0,270.0 L1750.0,282.5 L1742.5,295.0 L1738.8,305.0 L1745.0,315.0 L1752.5,322.5 L1762.5,327.5 L1772.5,322.5"/>
<path d="M1718.2,292.0 L1719.2,296.2" stroke-width="7"/>
<path d="M1475.0,382.5 L1467.5,386.2 L1457.5,385.0 L1445.0,388.8 L1435.0,395.0 L1420.0,400.0 L1405.0,407.5 L1392.5,417.5 L1385.0,427.5 L1382.5,435.0 L1392.5,433.8 L1402.5,430.0 L1417.5,425.0 L1432.5,422.5 L1445.0,421.2 L1460.0,418.8 L1470.0,412.5 L1477.5,402.5 L1478.8,395.0 L1475.0,387.5 L1475.0,382.5"/>
<path d="M1437.5,391.2 L1445.0,396.2 L1455.0,393.8 L1457.5,387.5" stroke-width="6"/>
<path d="M1402.5,430.0 L1407.5,437.5 L1408.8,450.0"/>
<path d="M900.0,493.8 L907.5,496.2 L913.8,493.8 L916.2,482.5 L912.5,472.5 L913.8,463.8 L916.2,463.8"/>
<path d="M913.8,493.8 L917.5,503.8 L921.2,515.0 L926.2,527.5 L930.0,538.8 L932.5,550.0 L933.8,560.0 L935.0,570.0 L937.5,573.8 L940.0,582.5 L943.8,590.0 L946.2,598.8 L953.8,602.5 L960.0,603.0 L961.2,608.8 L956.2,613.8 L960.0,620.0 L966.2,626.2 L972.5,631.2"/>
<path d="M1060.0,461.2 L1065.0,468.8 L1067.5,477.5 L1070.0,485.0 L1075.0,491.2 L1083.8,496.2 L1090.0,503.8 L1096.2,512.5 L1097.5,520.0 L1092.5,530.0 L1085.0,536.2 L1075.0,540.0 L1071.2,546.2 L1075.0,552.5 L1075.0,560.0 L1070.0,567.5 L1063.8,573.8 L1062.5,580.0 L1061.2,590.0 L1063.8,600.0 L1070.0,607.5 L1078.8,615.0 L1085.0,622.5 L1088.8,631.2 L1093.8,636.2 L1102.5,635.0 L1103.8,642.5 L1100.0,652.5 L1100.0,660.0 L1107.5,667.5 L1115.0,672.5 L1122.5,678.8 L1126.2,686.2 L1127.5,693.8 L1132.5,700.0 L1136.2,705.0 L1140.0,710.0 L1137.5,718.8 L1128.8,725.0 L1130.0,730.0 L1125.0,733.8 L1126.2,740.0 L1122.5,746.2 L1120.0,752.5 L1116.2,757.5 L1117.5,763.8 L1112.5,770.0 L1115.0,777.5 L1112.5,785.0 L1106.2,792.5 L1108.8,797.5 L1100.0,802.5 L1100.0,808.8 L1095.0,812.5 L1093.8,818.8 L1086.2,825.0"/>
<path d="M1053.8,571.2 L1058.8,576.2 L1062.5,580.0"/>
<path d="M1136.2,705.0 L1141.2,701.2 L1147.5,697.5 L1157.5,698.8 L1158.8,691.2 L1165.0,685.0 L1168.8,676.2 L1172.5,670.0 L1180.0,668.8 L1185.0,665.0 L1192.5,667.5 L1200.0,670.0 L1206.2,663.8 L1212.5,662.5 L1220.0,655.0 L1225.0,657.5 L1232.5,650.0 L1240.0,642.5 L1246.2,635.0 L1247.5,628.8 L1255.0,626.2 L1262.5,622.5 L1262.5,613.8 L1270.0,613.8 L1277.5,617.5 L1285.0,622.5 L1295.0,625.0 L1302.5,622.5 L1312.5,623.8 L1322.5,620.0 L1330.0,625.0 L1338.2,624.5"/>
<path d="M1172.5,670.0 L1170.0,662.5 L1173.8,652.5 L1178.8,642.5 L1182.5,632.5 L1181.2,622.5 L1178.2,615.0"/>
<path d="M1128.8,725.0 L1150.0,723.2 L1171.2,721.2 L1175.0,715.0 L1225.0,711.2 L1275.0,706.2 L1325.0,700.8 L1350.0,697.5"/>
<path d="M1107.5,727.0 L1113.8,735.0 L1103.8,747.0 L1122.5,746.2"/>
<path d="M1177.5,780.0 L1180.0,825.0"/>
<path d="M1257.5,773.8 L1268.8,825.0"/>
<path d="M1160.0,450.0 L1157.5,462.5 L1161.2,477.5 L1162.5,492.5 L1166.2,505.0 L1172.5,517.5 L1178.8,523.8 L1187.5,521.2 L1196.2,515.0 L1201.2,502.5 L1205.0,487.5 L1203.8,472.5 L1198.8,460.0 L1193.8,450.0"/>
<path d="M1312.5,450.0 L1310.0,460.0 L1307.5,470.0 L1306.2,477.5 L1300.0,482.5 L1297.5,492.5 L1292.5,500.0 L1288.8,506.2 L1300.0,510.0 L1310.0,515.0 L1320.0,511.2 L1330.0,508.8 L1340.0,505.0 L1350.0,498.8"/>
<path d="M1310.8,501.2 L1311.0,503.8" stroke-width="7"/>
<path d="M1330.0,511.7 L1338.3,509.2 L1346.7,503.3 L1355.0,496.7 L1363.3,490.0 L1370.0,486.7 L1380.0,479.2 L1390.0,473.3 L1396.7,465.0 L1401.7,458.3 L1406.7,452.5 L1411.7,446.7 L1410.0,442.5"/>
<path d="M1330.0,479.2 L1336.7,471.7 L1345.0,465.0 L1356.7,461.7 L1368.3,460.8 L1378.3,462.5 L1371.7,459.2 L1380.0,454.2 L1390.0,449.2 L1401.7,445.8 L1410.0,442.5"/>
<path d="M1390.0,473.3 L1390.0,480.0"/>
<path d="M1515.0,456.7 L1521.7,460.0 L1526.7,466.7 L1530.0,472.5 L1536.7,475.8 L1534.2,483.3 L1530.8,491.7 L1532.5,496.7 L1530.0,503.3 L1532.5,508.3 L1540.0,513.3 L1550.0,521.7 L1545.0,528.3 L1541.7,535.0 L1535.0,538.3 L1532.5,546.7 L1536.7,556.7 L1541.7,566.7 L1548.3,575.0 L1553.3,581.7 L1552.5,586.7 L1553.3,593.3 L1550.0,603.3 L1546.7,613.3 L1541.7,623.3 L1538.3,631.7 L1536.7,640.0 L1538.3,644.2"/>
<path d="M1535.0,538.3 L1526.7,541.7 L1524.2,544.2 L1525.0,546.7 L1535.0,590.0 L1551.7,586.7"/>
<path d="M1536.7,475.8 L1561.7,485.8"/>
<path d="M1561.7,485.8 L1563.3,495.0 L1560.0,505.0 L1568.3,508.3 L1570.8,518.3 L1570.8,530.0 L1568.3,540.0 L1563.3,548.3 L1561.7,556.7 L1555.0,570.0 L1552.5,566.7 L1551.7,560.0 L1545.0,558.3 L1537.5,555.0"/>
<path d="M1518.3,550.8 L1520.0,560.0 L1515.0,568.3 L1518.3,576.7 L1516.7,583.3 L1523.3,588.3 L1518.3,593.3 L1525.0,598.3 L1530.0,596.7 L1528.3,603.3 L1533.3,608.3 L1534.2,615.0 L1540.0,610.0 L1542.5,606.7 L1538.3,620.0 L1536.7,631.7 L1536.7,640.0" stroke-width="5"/>
<path d="M1518.3,550.8 L1511.7,556.7 L1505.0,565.0 L1506.7,571.7 L1503.3,580.0 L1506.7,586.7 L1503.3,593.3 L1508.3,598.3 L1504.2,604.2" stroke-width="5"/>
<path d="M1510.0,560.0 L1513.3,573.3 L1511.7,583.3" stroke-width="5"/>
<path d="M1504.2,604.2 L1511.7,608.3 L1518.3,615.0 L1523.3,621.7 L1520.0,613.3 L1513.3,606.7" stroke-width="5"/>
<path d="M1495.0,610.0 L1505.0,613.3 L1515.0,621.7 L1523.3,630.0 L1526.7,636.7" stroke-width="5"/>
<path d="M1510.0,633.3 L1518.3,636.7 L1525.0,643.3 L1528.3,650.0" stroke-width="5"/>
<path d="M1498.3,643.3 L1510.0,644.2 L1520.0,650.0 L1526.7,655.0 L1535.0,653.3 L1538.3,650.8" stroke-width="5"/>
<path d="M1538.3,650.8 L1545.0,661.7 L1551.7,673.3 L1558.3,690.0" stroke-width="5"/>
<path d="M1415.0,568.8 L1417.9,585.4 L1427.5,572.5 L1433.3,567.9 L1439.2,565.0 L1443.3,564.6 L1450.0,563.8 L1456.7,562.1 L1461.7,561.2 L1464.6,564.2 L1466.7,569.2 L1467.9,575.0 L1467.7,579.6"/>
<path d="M1467.7,579.6 L1463.3,576.7 L1458.3,573.3 L1453.3,570.2 L1450.0,569.2 L1449.2,573.3 L1449.2,579.2 L1446.7,586.7 L1441.7,591.7 L1435.8,596.7 L1433.3,600.0 L1432.5,606.7 L1428.3,612.5 L1423.3,613.3 L1418.3,610.8 L1415.8,615.0 L1415.0,621.7 L1410.8,631.7 L1406.7,640.0 L1404.2,648.3 L1403.3,656.7 L1400.0,659.2"/>
<path d="M1467.7,576.7 L1472.5,573.3 L1475.8,575.8 L1480.0,579.2 L1486.7,581.2 L1491.7,580.8 L1495.0,583.3 L1491.7,590.0 L1488.3,594.2 L1487.5,600.0 L1490.0,604.2 L1494.2,601.7 L1498.3,603.3 L1503.3,606.7 L1508.3,609.2 L1515.0,611.7 L1520.0,615.0 L1523.3,617.5" stroke-width="5"/>
<path d="M1338.3,625.0 L1341.7,616.7 L1343.3,610.8 L1345.8,605.8 L1349.2,609.2 L1351.7,606.7 L1350.8,600.8 L1353.3,594.2 L1358.3,589.2 L1363.3,588.3 L1369.2,583.3 L1374.2,576.7 L1375.8,566.7 L1377.5,554.2 L1376.7,546.7 L1374.2,540.0 L1376.7,536.7"/>
<path d="M1354.0,660.5 L1357.5,667.5 L1367.5,672.5 L1375.0,667.5 L1382.5,665.0 L1390.0,661.2 L1400.0,659.2"/>
<path d="M1400.0,659.0 L1396.7,658.3 L1388.3,661.7 L1380.0,668.3 L1373.3,666.7 L1366.7,671.7 L1358.3,668.3 L1353.3,661.7 L1345.0,656.7 L1338.3,648.3 L1331.7,636.7 L1330.0,628.3"/>
<path d="M1403.3,653.3 L1405.0,645.0 L1406.7,640.0 L1405.0,635.0"/>
<path d="M1353.3,661.7 L1345.0,671.7 L1335.0,681.7 L1328.3,691.7 L1320.0,698.3 L1307.5,703.7"/>
<path d="M1300.0,705.3 L1307.5,703.7 L1363.3,695.3 L1423.3,685.0 L1490.0,673.3 L1540.0,664.7"/>
<path d="M1368.3,695.8 L1370.0,701.7 L1365.0,706.7 L1360.0,711.7 L1356.7,715.8 L1350.0,717.5 L1343.3,721.7 L1338.3,723.3 L1333.3,728.3 L1330.0,735.0 L1323.3,738.3 L1316.7,741.7 L1310.0,744.2 L1305.0,750.0 L1298.3,755.0 L1295.0,760.0 L1295.0,767.0"/>
<path d="M1331.7,760.3 L1340.0,756.7 L1348.3,751.7 L1355.0,749.2 L1373.3,747.5 L1393.3,745.8 L1400.0,747.5 L1405.0,753.3 L1406.7,758.3 L1441.7,753.3 L1481.7,779.7"/>
<path d="M1331.7,760.3 L1326.7,766.7 L1326.7,773.3 L1333.3,776.7 L1340.0,781.7 L1346.7,783.3 L1351.7,790.0 L1355.0,796.7 L1361.7,801.7 L1368.3,808.3 L1375.0,813.3 L1380.0,820.0 L1386.7,825.0 L1393.3,828.3 L1398.3,835.0 L1401.7,841.7 L1406.7,848.3 L1410.0,855.0 L1413.3,861.7 L1418.3,863.3 L1421.7,860.0"/>
<path d="M1540.0,656.7 L1546.7,670.0 L1553.3,678.3 L1560.0,686.7 L1565.0,696.7 L1566.7,705.0 L1565.0,711.7 L1558.3,716.7 L1553.3,719.2"/>
<path d="M1548.3,726.7 L1543.3,738.3 L1538.3,741.7 L1528.3,740.0 L1520.0,743.3 L1513.3,748.3 L1508.3,756.7 L1505.0,763.3 L1501.7,770.0 L1500.8,775.0 L1496.7,777.5 L1488.3,779.2 L1481.7,780.0 L1475.0,788.3 L1470.0,796.7 L1466.7,805.0 L1463.3,811.7 L1456.7,818.3 L1450.0,826.7 L1443.3,833.3 L1436.7,840.0 L1431.7,843.3 L1426.7,845.0 L1421.7,850.0 L1423.3,855.0 L1421.7,860.0 L1416.7,868.3 L1413.3,876.7 L1411.7,890.0"/>
<path d="M1520.0,681.7 L1523.3,688.3 L1530.0,690.0 L1536.7,685.0 L1541.7,680.0 L1548.3,681.7 L1551.7,688.3 L1550.0,695.0 L1546.7,698.3" stroke-width="5"/>
<path d="M1516.7,709.2 L1523.3,711.7 L1531.7,710.0 L1540.0,711.7 L1546.7,706.7 L1551.7,698.3 L1555.0,690.0" stroke-width="5"/>
<path d="M1520.0,725.0 L1526.7,728.3 L1533.3,726.7 L1540.0,730.0 L1548.3,726.7" stroke-width="5"/>
<path d="M1531.7,706.7 L1533.3,726.7" stroke-width="5"/>
<path d="M1496.7,644.2 L1506.7,645.0 L1516.7,646.7 L1526.7,653.3 L1533.3,650.0 L1540.0,656.7" stroke-width="5"/>
<path d="M1464.2,804.2 L1464.7,806.7" stroke-width="7"/>
<path d="M1421.7,850.0 L1423.3,846.7 L1428.3,845.8" stroke-width="5"/>
<path d="M243.8,780.0 L247.5,790.0 L246.2,800.0 L248.8,806.2 L250.0,817.5 L255.0,830.0 L257.5,840.0 L255.0,840.0 L258.8,850.0 L262.5,862.5 L266.2,875.0 L268.8,887.5 L271.2,900.0 L270.0,912.5 L273.8,922.5 L281.2,932.5 L290.0,940.0 L297.5,950.0 L305.0,962.5 L312.5,975.0 L316.2,985.0 L312.5,995.0 L306.2,1001.2 L307.5,1010.0 L303.8,1002.5 L297.5,1002.5 L287.5,1001.2 L278.8,998.8 L285.0,1008.8 L292.5,1017.5 L295.0,1025.0 L305.0,1032.5 L312.5,1040.0 L320.0,1050.0 L330.0,1048.8 L336.2,1045.0 L336.2,1055.0 L342.5,1065.0 L350.0,1072.5 L357.5,1078.8 L362.5,1090.0 L365.0,1105.0 L362.5,1117.5 L360.0,1130.0 L365.0,1137.5 L372.5,1150.0 L377.5,1160.0"/>
<path d="M356.2,1115.0 L353.8,1127.5 L350.0,1133.8 L357.5,1142.5 L362.5,1152.5"/>
<path d="M313.8,846.2 L310.0,860.0 L310.0,875.0 L312.5,890.0 L312.5,905.0 L310.0,915.0 L315.0,925.0 L325.0,937.5 L332.5,950.0 L338.8,962.5 L340.0,967.5 L347.5,972.5 L350.0,982.5 L356.2,992.5 L356.2,1005.0 L360.0,1015.0 L367.5,1027.5 L372.5,1037.5 L377.5,1047.5 L381.2,1055.0 L387.5,1062.5 L390.0,1072.5 L392.5,1085.0 L396.2,1097.5 L397.5,1107.5 L401.2,1117.5 L405.0,1130.0 L407.5,1142.5 L410.0,1155.0"/>
<path d="M340.0,942.5 L347.5,952.5 L352.5,960.0 L350.0,966.2 L343.8,955.0Z"/>
<path d="M380.0,1055.0 L383.8,1068.8" stroke-width="6"/>
<path d="M397.5,1091.2 L400.0,1098.8" stroke-width="5"/>
<path d="M410.0,1131.2 L411.2,1140.0" stroke-width="6"/>
<path d="M313.8,846.2 L322.5,853.8 L332.5,862.5 L340.0,866.2 L345.0,862.5 L350.0,867.5 L352.5,875.0 L362.5,880.0 L370.0,885.0 L367.5,892.5 L365.0,900.0 L368.8,915.0 L371.2,927.5 L375.0,940.0 L380.0,955.0 L383.8,965.0 L383.8,970.0 L387.5,977.5 L392.5,987.5 L400.0,1000.0 L407.5,1012.5 L415.0,1021.2 L425.0,1022.5 L431.2,1026.2 L428.8,1037.5 L432.5,1047.5 L440.0,1055.0 L447.5,1057.5 L447.5,1067.5 L453.8,1073.8 L461.2,1075.0 L466.2,1082.5 L467.5,1091.2 L471.2,1093.8 L462.5,1098.8 L458.8,1107.5 L461.2,1117.5 L470.0,1122.5 L476.2,1117.5 L475.0,1125.0 L485.0,1132.5 L495.0,1140.0 L505.0,1147.5 L515.0,1157.5"/>
<path d="M370.0,975.0 L375.0,965.0 L382.5,963.8 L383.8,972.5 L377.5,981.2Z"/>
<path d="M179.5,923.8 L180.5,933.8" stroke-width="7"/>
<path d="M275.0,978.8 L272.5,988.8 L276.2,990.0Z"/>
<path d="M207.5,780.0 L212.5,787.5" stroke-width="6"/>
<path d="M333.8,780.0 L330.0,790.0 L333.8,800.0 L336.2,807.5 L333.8,815.0 L325.0,817.5 L321.2,824.5"/>
<path d="M581.2,885.0 L585.0,891.8 L587.5,892.5 L592.5,902.5 L600.0,910.0 L607.5,920.0 L615.0,928.8 L622.5,936.2 L630.0,942.5 L635.0,952.5 L638.8,965.0 L641.2,975.0 L647.5,985.0 L655.0,992.5 L665.0,998.8 L675.0,1005.0 L685.0,1011.2 L690.0,1007.5 L697.5,1001.2 L700.0,992.5 L705.0,985.0 L712.5,981.2 L718.8,978.8 L725.0,981.2 L735.0,982.5 L745.0,983.8 L752.5,991.2 L760.0,1000.0 L767.5,1010.0 L772.5,1020.0 L777.5,1030.0 L781.2,1040.0 L787.5,1048.8 L793.8,1057.5 L800.0,1067.5 L806.2,1073.8 L808.8,1082.5 L810.0,1091.2 L815.0,1100.0 L820.0,1110.0 L822.5,1117.5 L830.0,1122.5 L840.0,1126.2 L850.0,1130.0 L862.5,1133.8 L872.5,1136.2 L880.0,1140.0 L887.5,1141.2"/>
<path d="M802.5,802.5 L810.0,808.8 L817.5,811.2 L822.5,808.8 L827.5,815.0 L830.0,818.8 L840.0,820.0 L850.0,822.5 L857.5,821.2 L865.0,825.0 L868.8,832.5 L875.0,827.5 L882.5,831.2 L890.0,833.8 L892.5,838.8 L897.5,830.0 L905.0,832.5 L912.5,835.0 L920.0,840.0 L927.5,833.8 L935.0,832.5 L942.5,830.0 L950.0,832.5 L957.5,828.8 L965.0,833.8 L972.5,840.0 L980.0,843.8 L992.5,844.5"/>
<path d="M1000.0,987.5 L992.5,992.5 L985.0,997.5 L975.0,1002.5 L965.0,1010.0 L955.0,1020.0 L945.0,1027.5 L935.0,1035.0 L922.5,1040.0 L917.5,1035.0 L910.0,1030.0 L912.5,1040.0 L915.0,1047.5 L905.0,1055.0 L895.0,1052.5 L897.5,1060.0 L887.5,1065.0 L882.5,1072.5 L885.0,1080.0 L875.0,1085.0 L868.8,1078.8 L872.5,1090.0 L877.5,1100.0 L878.8,1115.0 L881.2,1127.5 L883.8,1140.0 L886.2,1142.5"/>
<path d="M962.5,992.5 L966.2,1002.5 L972.5,997.5 L970.0,991.2Z"/>
<path d="M917.5,1045.0 L905.0,1057.5 L895.0,1070.0 L887.5,1082.5 L883.8,1097.5 L883.8,1115.0 L886.2,1130.0 L888.8,1141.2"/>
<path d="M996.2,900.0 L998.8,910.0 L1002.5,917.5 L1006.2,925.0 L1010.0,935.0 L1010.0,945.0 L1006.2,955.0 L1005.0,965.0 L1007.5,975.0 L1003.8,985.0 L1000.0,990.0"/>
<path d="M1000.0,990.0 L1012.5,987.5 L1025.0,988.8 L1037.5,995.0 L1050.0,997.5 L1060.0,995.0 L1062.5,987.5 L1070.0,985.0 L1075.0,990.0 L1072.5,997.5 L1080.0,995.0 L1087.5,1000.0 L1090.0,1005.0 L1097.5,1007.5 L1107.5,1011.2 L1112.5,1005.0 L1120.0,1002.5 L1125.0,1010.0 L1127.5,1000.0 L1132.5,992.5 L1137.5,1000.0 L1145.0,1002.5 L1150.0,1005.0 L1157.5,1007.5 L1167.5,1003.8 L1165.0,1010.0 L1155.0,1012.5 L1150.0,1008.8"/>
<path d="M1118.8,965.0 L1125.0,960.0 L1135.0,961.2 L1140.0,967.5 L1132.5,972.5 L1123.8,972.5 L1118.8,968.8Z"/>
<path d="M1140.0,975.0 L1147.5,972.5 L1155.0,967.5 L1157.5,972.5 L1150.0,977.5 L1147.5,985.0 L1140.0,990.0 L1150.0,997.5 L1160.0,1000.0 L1167.5,1003.8"/>
<path d="M1167.5,967.5 L1170.0,977.5" stroke-width="4"/>
<path d="M1169.5,981.2 L1167.0,986.2" stroke-width="4"/>
<path d="M1086.2,825.0 L1087.5,835.0 L1083.8,845.0 L1086.2,855.0 L1085.0,865.0 L1090.0,875.0 L1093.8,885.0 L1090.0,895.0 L1085.0,905.0 L1080.0,915.0 L1077.5,925.0 L1072.5,930.0 L1073.8,938.8"/>
<path d="M1137.5,935.0 L1136.2,945.0 L1140.0,955.0 L1143.8,965.0 L1146.2,970.0"/>
<path d="M1140.0,970.0 L1146.2,970.0 L1152.5,965.0 L1162.5,960.0 L1172.5,956.2 L1182.5,957.5 L1190.0,960.0 L1195.0,945.0 L1197.5,942.5 L1200.0,955.0 L1203.8,957.5 L1207.5,955.0 L1212.5,947.5 L1220.0,950.0 L1225.0,945.0 L1235.0,947.5 L1245.0,945.0 L1255.0,947.5 L1262.5,950.0 L1272.5,955.0 L1280.0,962.5 L1285.0,970.0 L1292.5,972.5 L1300.0,975.0 L1305.0,970.0 L1315.0,965.0 L1322.5,955.0 L1330.0,950.0 L1340.0,955.0 L1350.0,965.0"/>
<path d="M1172.5,962.0 L1180.0,961.2" stroke-width="4"/>
<path d="M1185.0,962.0 L1195.0,960.5" stroke-width="4"/>
<path d="M1208.8,930.0 L1207.5,940.0 L1210.0,950.0"/>
<path d="M1290.0,921.2 L1297.5,931.2 L1350.0,927.5"/>
<path d="M1269.0,825.0 L1272.5,830.0 L1280.0,847.5 L1290.0,872.5 L1286.2,895.0 L1290.0,921.2"/>
<path d="M1180.0,825.0 L1176.2,900.0 L1182.5,957.5"/>
<path d="M1422.5,860.0 L1415.0,867.5 L1412.5,877.5 L1410.0,887.5 L1408.8,897.5 L1407.5,907.5 L1408.8,916.2 L1412.5,925.0 L1418.8,940.0 L1427.5,955.0 L1437.5,970.0 L1445.0,985.0 L1452.5,1000.0 L1460.0,1015.0 L1467.5,1030.0 L1475.0,1045.0 L1480.0,1057.5 L1483.8,1072.5 L1485.0,1087.5 L1483.8,1102.5 L1481.2,1112.5 L1475.0,1120.0 L1467.5,1123.8 L1460.0,1126.2 L1455.0,1127.5 L1453.8,1121.2 L1457.5,1118.8 L1450.0,1112.5 L1445.0,1105.0 L1440.0,1102.5 L1432.5,1100.0 L1425.0,1090.0 L1420.0,1080.0 L1413.8,1081.2 L1410.0,1077.5 L1412.5,1070.0 L1407.5,1065.0 L1402.5,1057.5 L1395.0,1050.0 L1387.5,1045.0 L1391.2,1037.5 L1395.0,1031.2 L1387.5,1027.5 L1381.2,1032.5 L1382.5,1020.0 L1383.8,1007.5 L1381.2,995.0 L1377.5,985.0 L1367.5,977.5 L1357.5,970.0 L1347.5,962.5 L1337.5,956.2 L1327.5,952.5 L1320.0,955.0 L1317.5,960.0 L1307.5,965.0 L1300.0,970.0"/>
<path d="M1443.8,988.8 L1453.8,1005.0" stroke-width="9"/>
<path d="M1453.8,1005.0 L1465.0,1025.0 L1475.0,1045.0" stroke-width="6"/>
<path d="M1410.0,1065.0 L1416.2,1072.5 L1413.8,1080.0 L1421.2,1073.8" stroke-width="5"/>
<path d="M1485.0,1115.0 L1480.0,1125.0 L1472.5,1135.0" stroke-width="5"/>
<path d="M1468.8,1138.0 L1462.5,1140.5" stroke-width="5"/>
<path d="M1300.0,932.5 L1385.0,925.5 L1388.8,933.8 L1392.5,930.0 L1391.2,918.8 L1400.0,916.2 L1408.8,916.2"/>
<path d="M1518.8,1055.0 L1527.5,1060.0 L1535.0,1055.0 L1555.0,1050.0" stroke-width="6"/>
<path d="M1532.5,1050.0 L1536.2,1054.5" stroke-width="5"/>
<path d="M1552.5,1040.0 L1562.5,1037.5 L1572.5,1040.0 L1582.5,1046.2 L1587.5,1055.0 L1586.2,1065.0 L1582.5,1073.8 L1578.8,1071.2 L1583.8,1062.5 L1584.5,1052.5" stroke-width="5"/>
<path d="M1557.5,1108.8 L1563.8,1107.5 L1568.8,1115.0 L1575.0,1122.5 L1578.8,1130.0 L1575.0,1137.5 L1568.8,1137.5 L1562.5,1132.5 L1555.0,1131.2 L1560.0,1125.0 L1558.8,1115.0Z"/>
<path d="M1580.0,1109.2 L1590.0,1107.0" stroke-width="9"/>
<path d="M1605.0,1085.0 L1615.0,1088.8 L1625.0,1093.8 L1630.0,1100.0 L1630.0,1110.0 L1625.0,1107.5" stroke-width="6"/>
<path d="M1647.5,1110.0 L1657.5,1118.8 L1665.0,1126.2 L1660.0,1128.8" stroke-width="6"/>
<path d="M1695.0,1121.2 L1695.5,1126.2" stroke-width="9"/>
<path d="M1645.0,1151.2 L1660.0,1156.2" stroke-width="6"/>
<path d="M1670.0,1146.2 L1680.0,1158.8 L1692.5,1171.2" stroke-width="6"/>
<path d="M1712.5,1170.0 L1722.5,1172.5 L1730.0,1170.0 L1731.2,1177.5 L1721.2,1192.5" stroke-width="6"/>
<path d="M500.0,1143.3 L510.0,1160.0 L533.3,1186.7 L550.0,1210.0 L560.0,1233.3 L566.7,1253.3 L573.3,1275.0 L581.7,1286.7 L590.0,1296.7 L588.3,1313.3"/>
<path d="M539.0,1284.0 L539.7,1288.7" stroke-width="8"/>
<path d="M400.0,1143.3 L410.0,1160.0 L420.0,1176.7 L433.3,1196.7 L446.7,1213.3 L440.0,1216.7 L420.0,1213.3 L413.3,1193.3 L406.7,1166.7 L400.0,1150.0"/>
<path d="M887.3,1140.0 L880.0,1166.7 L871.7,1200.0 L865.0,1233.3 L861.7,1260.0 L863.3,1275.0 L866.7,1290.0 L873.3,1303.3 L880.0,1313.3"/>
<path d="M876.7,1100.0 L882.7,1120.0 L888.3,1138.3" stroke-width="6"/>
<path d="M1340.0,1273.3 L1356.7,1246.7 L1376.7,1230.0 L1400.0,1216.7 L1426.7,1210.0 L1453.3,1206.7 L1480.0,1203.3 L1500.0,1206.7 L1520.0,1210.0 L1540.0,1213.3 L1560.0,1220.0 L1583.3,1230.0 L1606.7,1240.0 L1630.0,1243.3 L1643.3,1246.7 L1660.0,1246.7 L1676.7,1250.0 L1683.3,1260.0 L1690.0,1256.7 L1706.7,1256.7 L1723.3,1260.0 L1736.7,1265.0 L1745.0,1270.0 L1743.3,1275.0 L1730.0,1278.3 L1713.3,1285.0 L1710.0,1290.0 L1693.3,1293.3 L1673.3,1296.7 L1656.7,1300.0 L1640.0,1305.0 L1623.3,1310.0"/>
<path d="M1340.0,1273.3 L1356.7,1266.7 L1373.3,1256.7 L1390.0,1250.0 L1403.3,1243.3 L1413.3,1233.3 L1430.0,1228.3 L1446.7,1226.7 L1443.3,1240.0 L1453.3,1246.7 L1466.7,1240.0 L1476.7,1243.3 L1493.3,1246.7 L1510.0,1256.7 L1526.7,1253.3 L1546.7,1250.0 L1563.3,1256.7 L1576.7,1266.7 L1590.0,1275.0 L1606.7,1276.7 L1623.3,1275.0 L1633.3,1281.7 L1631.7,1291.7 L1623.3,1303.3 L1618.3,1311.7"/>
<path d="M1403.3,1263.3 L1416.7,1261.7 L1423.3,1270.0 L1416.7,1280.0 L1406.7,1281.7 L1400.0,1273.3Z"/>
<path d="M1560.0,1213.3 L1583.3,1220.0 L1610.0,1233.3 L1623.3,1241.7" stroke-width="6"/>
<path d="M1200.0,1303.3 L1210.0,1298.3 L1226.7,1296.7 L1240.0,1298.3 L1250.0,1293.3 L1260.0,1293.3 L1266.7,1300.0 L1273.3,1311.7"/>
<path d="M1773.3,1210.0 L1766.7,1216.7 L1770.0,1225.0 L1760.0,1228.3 L1753.3,1233.3 L1756.7,1236.7 L1766.7,1233.3 L1775.0,1231.7"/>
<path d="M1760.0,1175.0 L1774.0,1175.0" stroke-width="8"/>
<path d="M1573.3,1140.0 L1586.7,1143.3 L1591.7,1156.7"/>
<path d="M116.2,450.0 L111.2,457.5 L111.2,465.0 L117.5,477.5 L120.0,487.5 L117.5,497.5 L115.0,505.0 L113.8,518.8 L120.0,532.5 L125.0,542.5 L127.5,552.5 L123.8,558.8 L130.0,562.5 L135.0,568.8 L133.8,577.5 L132.5,592.5 L137.5,602.5 L145.0,607.5 L146.2,615.0 L140.0,622.5 L138.8,630.0 L143.8,640.0 L150.0,657.5 L157.5,672.5 L160.0,680.0 L163.8,685.0 L162.5,693.8 L160.0,705.0 L165.0,710.0 L175.0,712.5 L185.0,717.5 L192.5,722.5 L198.8,730.0 L207.5,736.2 L217.5,740.0 L221.2,747.5 L220.0,753.8 L226.2,753.8 L235.0,762.5 L242.5,772.5 L247.5,782.5 L248.8,795.0 L247.5,802.5 L250.0,808.8 L250.0,815.0 L252.5,825.0"/>
<path d="M135.0,568.8 L138.8,560.0 L142.5,557.5 L150.0,562.5 L167.5,568.0"/>
<path d="M138.8,567.5 L143.8,575.0 L145.0,585.0" stroke-width="5"/>
<path d="M158.8,726.2 L170.0,732.5 L175.0,730.0 L186.2,733.8" stroke-width="6"/>
<path d="M180.5,761.2 L182.0,764.5" stroke-width="8"/>
<path d="M212.5,762.5 L218.0,769.5" stroke-width="7"/>
<path d="M208.0,778.8 L212.5,787.5" stroke-width="7"/>
<path d="M346.2,730.0 L348.8,742.5 L352.5,753.8 L357.5,761.2 L348.8,767.5 L342.5,775.0 L340.0,785.0 L333.8,791.2 L332.5,800.0 L336.2,807.5 L335.0,815.0"/>
<path d="M346.2,730.0 L350.0,715.0 L352.5,700.0 L353.8,691.2 L360.0,688.8 L367.5,696.2 L373.8,691.2 L375.0,685.0 L376.2,675.0"/>
<path d="M857.5,480.5 L860.0,481.2 L867.5,487.5 L873.8,490.0 L880.0,487.5 L890.0,487.5 L900.0,492.5"/>
<path d="M1214.0,326.0 L1230.0,330.0 L1238.0,334.0 L1250.0,335.3 L1263.3,336.0 L1276.7,335.3 L1290.0,334.7 L1303.3,334.7 L1316.7,335.3 L1326.0,336.0 L1338.0,336.0 L1343.3,340.7 L1348.7,347.3 L1352.7,351.3 L1356.7,355.3 L1362.0,359.3 L1363.3,364.7 L1368.7,368.7 L1375.3,374.0 L1374.0,376.7 L1367.3,376.0 L1361.3,376.0 L1364.7,379.3 L1368.7,384.7 L1367.3,390.0 L1360.7,389.3 L1354.0,387.3 L1348.7,384.0 L1343.3,387.3 L1340.7,382.7 L1336.7,382.0 L1332.7,376.7 L1328.7,367.3 L1324.7,366.0 L1318.0,368.0 L1323.3,372.7 L1328.7,379.3 L1332.0,386.0 L1331.3,392.7 L1327.3,399.3 L1324.7,406.0 L1323.3,414.0 L1326.0,420.7 L1327.3,430.0 L1328.0,438.0 L1323.3,446.0 L1318.0,451.3 L1311.3,454.7"/>
<path d="M1216.7,336.7 L1232.7,347.3 L1243.3,350.0 L1256.7,348.7 L1270.0,348.7 L1283.3,348.0 L1292.7,350.0 L1299.3,352.7 L1307.3,356.7 L1314.0,359.3 L1316.7,354.0 L1317.3,347.3 L1315.3,342.0 L1310.0,340.7 L1304.7,344.7 L1299.3,346.0 L1294.0,344.7 L1288.7,347.3 L1280.7,344.7 L1270.0,343.3 L1259.3,342.7 L1250.0,340.7 L1243.3,336.7 L1235.3,331.3" stroke-width="6"/>
<path d="M1295.3,346.0 L1300.7,343.3 L1307.3,343.3 L1306.0,348.7 L1299.3,350.0Z"/>
<path d="M1300.0,423.3 L1302.0,432.7 L1306.0,443.3 L1309.3,452.7 L1311.3,454.7 L1310.7,463.3 L1310.0,468.7"/>
<path d="M1302.7,469.3 L1307.3,468.7 L1310.0,474.0 L1313.3,476.0 L1312.7,480.7 L1307.3,482.0 L1302.0,482.0 L1299.3,478.0Z"/>
<path d="M1299.3,482.0 L1295.3,487.3 L1292.7,496.7 L1288.7,504.7 L1286.0,510.0"/>
<path d="M1296.7,488.7 L1302.0,494.0 L1310.0,492.7 L1315.3,495.3 L1323.3,486.0 L1331.3,480.7 L1335.3,472.7 L1343.3,464.7 L1354.0,462.0 L1367.3,462.0 L1380.7,462.7 L1371.3,460.7 L1368.7,459.3 L1376.7,452.7 L1387.3,448.7 L1398.0,446.0 L1406.0,444.7 L1410.0,446.0"/>
<path d="M1310.5,502.0 L1310.8,503.6" stroke-width="7"/>
<path d="M1410.0,446.0 L1409.3,440.0 L1403.3,435.3"/>
<path d="M1567.5,450.0 L1568.0,454.7 L1572.0,472.0 L1574.0,476.0"/>
<path d="M1616.7,432.7 L1620.7,454.7"/>
<path d="M1624.7,429.3 L1628.0,436.0"/>
<path d="M1574.0,476.0 L1580.0,472.0 L1588.0,466.7 L1598.7,464.0 L1609.3,461.3 L1620.7,456.0 L1628.0,452.0 L1633.3,446.7 L1634.7,445.3 L1640.0,442.7 L1644.0,438.7 L1648.0,440.0 L1653.3,437.3 L1657.3,433.3 L1664.9,434.9"/>
<path d="M1626.7,436.0 L1632.0,440.0 L1628.0,444.0 L1634.7,445.3" stroke-width="7"/>
<path d="M1646.7,449.3 L1654.7,448.0" stroke-width="8"/>
<path d="M1664.7,445.3 L1671.3,444.7 L1669.3,441.6" stroke-width="8"/>
<path d="M1566.7,485.3 L1574.7,481.3 L1585.3,478.7 L1596.0,473.3 L1604.0,469.3 L1610.7,466.7 L1616.0,470.7 L1621.3,468.0"/>
<path d="M1558.7,500.0 L1569.3,498.7 L1580.0,494.7 L1590.7,489.3 L1601.3,482.7 L1610.7,476.0 L1616.0,472.0"/>
<path d="M1604.0,468.7 L1614.7,473.3" stroke-width="8"/>
<path d="M1558.7,500.0 L1560.0,505.3 L1564.0,504.0 L1569.3,506.7" stroke-width="5"/>
<path d="M1562.7,485.3 L1561.3,476.0 L1560.0,473.3" stroke-width="5"/>
<path d="M1035.0,336.2 L1026.2,342.5 L1026.2,357.5 L1017.5,370.0 L1015.0,382.5 L1020.0,395.0 L1018.8,412.5 L1030.0,422.5 L1045.0,432.5 L1057.5,445.0 L1062.5,462.5 L1065.0,475.0 L1072.5,487.5 L1082.5,496.2 L1090.0,505.0 L1097.5,517.5"/>
<path d="M157.5,99.2 L165.0,100.8 L175.8,102.9 L163.3,104.2 L161.7,109.2 L167.5,111.7 L175.0,114.2 L171.7,116.7 L176.7,119.2 L181.7,124.2 L175.8,126.7 L179.2,130.8 L181.7,135.0 L186.7,134.2 L193.3,135.8 L198.3,135.0 L201.7,130.8 L198.3,136.7 L193.3,140.0 L189.2,143.3 L190.8,146.7 L196.7,151.7 L203.3,156.7 L210.0,161.7 L216.7,166.7 L222.5,170.8 L226.7,169.2 L230.8,170.8 L231.7,166.7 L228.3,163.3 L230.0,158.3 L232.5,153.3 L230.8,148.3 L227.5,144.2 L224.2,138.3 L220.0,133.3 L215.0,129.2 L210.0,125.0 L206.7,120.0 L205.0,114.2 L204.2,107.5 L201.7,99.2"/>
<path d="M225.8,145.0 L230.0,152.5 L228.3,161.7" stroke-width="7"/>
<path d="M165.0,112.5 L175.0,119.2 L178.3,124.2" stroke-width="6"/>
<path d="M213.3,99.2 L215.0,104.2 L217.5,109.2 L222.5,111.7 L228.3,110.8 L233.3,106.7 L236.7,102.5 L235.8,99.2" stroke-width="5"/>
<path d="M212.5,111.7 L218.3,119.2 L221.7,124.2" stroke-width="8"/>
<path d="M224.2,116.7 L228.3,122.5 L235.8,122.5" stroke-width="6"/>
<path d="M228.3,126.7 L234.2,130.0 L240.8,131.7 L247.5,125.0 L242.5,128.3 L241.7,134.2 L245.0,139.2 L251.7,138.3 L248.3,141.7 L242.5,143.3 L243.3,146.7 L248.3,151.7 L250.0,158.3 L251.7,164.2 L252.5,170.0 L250.0,175.0" stroke-width="5"/>
<path d="M235.0,165.0 L241.7,162.5 L246.7,165.8 L245.8,170.0 L241.7,174.2 L236.7,171.7 L234.2,168.3Z" stroke-width="3" fill="#000"/>
<path d="M243.3,175.0 L250.0,173.3 L252.5,182.5 L254.2,193.3 L250.8,198.3 L247.5,205.8 L240.0,205.8 L235.8,200.0 L238.3,193.3 L239.2,186.7 L240.8,180.0Z" stroke-width="3" fill="#000"/>
<path d="M194.2,161.7 L198.3,162.5 L205.0,168.3 L209.2,173.3 L215.0,176.7 L221.7,180.0 L227.5,182.5 L231.7,182.5 L234.2,185.8 L239.2,187.5"/>
<path d="M194.2,161.7 L191.7,170.0 L190.0,178.3 L192.5,184.2 L194.2,190.8 L193.3,199.2 L194.2,207.5 L193.3,215.8 L193.3,220.0"/>
<path d="M246.2,205.0 L247.5,217.5 L235.0,223.8 L228.8,226.2 L222.0,221.2 L223.8,212.5 L231.2,203.8 L240.0,198.8Z" stroke-width="6"/>
<path d="M237.5,206.2 L231.2,215.0 L233.8,220.0" stroke-width="5"/>
<path d="M242.8,151.3 L255.3,154.9 L267.9,158.5 L280.4,162.1 L293.0,165.5 L305.6,168.9 L318.2,172.2 L330.9,175.5 L343.5,178.7 L356.2,181.8 L368.9,184.9 L381.6,187.9 L394.3,190.8 L407.0,193.6 L419.8,196.4 L432.5,199.1 L445.3,201.7 L458.1,204.3 L470.9,206.8 L483.7,209.2 L496.6,211.6 L509.4,213.9 L522.3,216.1 L535.1,218.3 L548.0,220.4 L560.9,222.4 L573.8,224.3 L586.7,226.2 L599.6,228.0 L612.6,229.7 L625.5,231.4 L638.5,233.0 L651.4,234.5 L664.4,236.0 L677.3,237.4 L690.3,238.7 L703.3,239.9 L716.3,241.1 L729.3,242.2 L742.3,243.2 L755.3,244.2 L768.3,245.1 L781.4,245.9 L794.4,246.7 L807.4,247.4 L820.5,248.0 L833.5,248.5 L846.5,249.0 L859.6,249.4 L872.6,249.7 L885.7,250.0 L898.7,250.2 L911.7,250.3 L924.8,250.3 L937.8,250.3 L950.9,250.2"/>
<path d="M571.0,223.9 L597.2,47.9"/>
<path d="M135.6,402.1 L149.4,406.3 L163.3,410.5 L177.2,414.5 L191.1,418.5 L205.0,422.5 L218.9,426.3 L232.9,430.1 L246.8,433.8 L260.8,437.4 L274.9,441.0 L288.9,444.4 L302.9,447.8 L317.0,451.2 L331.1,454.4 L345.2,457.6 L359.3,460.7 L373.5,463.7 L387.6,466.6 L401.8,469.5 L416.0,472.3 L430.2,475.0 L444.4,477.7 L458.6,480.2 L472.9,482.7 L487.1,485.1 L501.4,487.4"/>
<path d="M519.7,373.3 L533.2,375.4 L546.7,377.5 L560.2,379.5 L573.8,381.4 L587.4,383.3 L600.9,385.0 L614.5,386.7 L628.1,388.4 L641.7,389.9 L655.3,391.4 L668.9,392.8 L682.5,394.2 L696.1,395.4 L709.8,396.6"/>
<path d="M722.8,241.7 L696.6,550.1"/>
<path d="M712.7,360.4 L727.1,361.5 L741.4,362.6 L755.8,363.7 L770.2,364.6 L784.6,365.4 L798.9,366.2 L813.3,366.9 L827.7,367.5 L842.1,368.0 L856.5,368.5 L870.9,368.8 L885.3,369.1 L899.7,369.3 L914.1,369.4"/>
<path d="M703.0,473.5 L717.1,474.6 L731.3,475.7 L745.4,476.7 L759.6,477.7 L773.8,478.5 L788.0,479.3 L802.2,480.0 L816.4,480.7 L830.5,481.2 L844.7,481.7 L858.9,482.1"/>
<path d="M519.7,373.3 L495.3,525.4"/>
<path d="M495.3,525.4 L510.5,527.8 L525.6,530.1 L540.8,532.3 L556.0,534.4 L571.2,536.5 L586.4,538.4 L601.6,540.3 L616.8,542.1 L632.0,543.8 L647.3,545.4 L662.5,546.9 L677.8,548.4 L693.1,549.8 L708.3,551.0 L723.6,552.2 L738.9,553.3 L754.2,554.3"/>
<path d="M754.2,554.3 L744.5,707.6"/>
<path d="M751.8,592.6 L767.0,593.6 L782.2,594.4 L797.4,595.2 L812.6,595.8 L827.8,596.4 L843.1,596.9 L858.3,597.4 L873.5,597.7 L888.7,597.9 L904.0,598.1 L919.2,598.2 L934.4,598.2 L949.7,598.1"/>
<path d="M552.6,533.9 L501.5,901.4"/>
<path d="M380.5,660.7 L395.9,663.7 L411.3,666.5 L426.7,669.3 L442.1,672.0 L457.5,674.6 L473.0,677.1 L488.4,679.5 L503.9,681.8 L519.4,684.1 L534.9,686.3 L550.4,688.4 L565.9,690.4 L581.4,692.3 L597.0,694.1 L612.5,695.9 L628.1,697.6 L643.6,699.2 L659.2,700.7 L674.8,702.1 L690.4,703.4 L706.0,704.6 L721.6,705.8 L737.2,706.9 L752.8,707.9 L768.4,708.8 L784.1,709.6 L799.7,710.3 L815.3,711.0 L831.0,711.6 L846.6,712.0 L862.2,712.4 L877.9,712.8 L893.5,713.0 L909.2,713.1 L924.8,713.2 L940.5,713.2 L956.1,713.0 L971.8,712.8"/>
<path d="M417.2,472.5 L374.9,690.9"/>
<path d="M251.3,434.9 L222.3,546.3 L348.0,732.5"/>
<path d="M352.4,372.4 L333.7,455.0"/>
<path d="M715.4,705.4 L714.0,724.5"/>
<path d="M712.7,724.4 L699.9,896.6"/>
<path d="M714.1,724.5 L729.4,725.6 L744.8,726.6 L760.2,727.5 L775.5,728.4 L790.9,729.1 L806.3,729.8"/>
<path d="M806.3,729.8 L803.2,804.1"/>
<path d="M583.7,885.8 L600.2,887.6 L616.7,889.3 L633.2,890.9 L649.8,892.5 L666.3,893.9 L682.8,895.3 L699.4,896.6"/>
<path d="M585.7,894.4 L567.5,892.3 L549.3,890.1 L531.1,887.8"/>
<path d="M531.1,887.8 L528.9,905.0"/>
<path d="M528.9,905.0 L510.2,902.5 L491.5,899.9 L472.8,897.2 L454.2,894.4 L435.6,891.4"/>
<path d="M435.6,891.4 L323.3,825.6"/>
<path d="M328.1,817.7 L250.4,808.4"/>
<path d="M970.5,632.4 L972.1,732.0"/>
<path d="M972.1,732.0 L989.3,731.7 L1006.5,731.3 L1023.7,730.7 L1040.9,730.1 L1058.0,729.4 L1075.2,728.6 L1092.4,727.6 L1109.6,726.6"/>
<path d="M916.7,463.7 L931.3,463.7 L945.9,463.7 L960.6,463.5 L975.2,463.3 L989.8,463.0 L1004.4,462.6 L1019.0,462.1 L1033.6,461.6 L1048.2,461.0 L1062.8,460.2"/>
<path d="M936.1,576.0 L950.8,575.9 L965.5,575.7 L980.2,575.5 L994.9,575.1 L1009.6,574.7 L1024.3,574.3 L1039.1,573.7 L1053.8,573.1"/>
<path d="M917.0,394.2 L916.7,463.7"/>
<path d="M1081.2,497.8 L1097.3,496.8 L1113.4,495.7 L1129.4,494.6 L1145.5,493.3 L1161.5,491.9"/>
<path d="M1171.8,519.6 L1180.2,611.7"/>
<path d="M1171.8,519.6 L1187.3,518.1 L1202.9,516.6 L1218.4,514.9 L1233.9,513.2 L1249.4,511.4"/>
<path d="M1249.7,513.8 L1288.1,507.6"/>
<path d="M1249.4,513.7 L1261.3,612.7"/>
<path d="M1369.5,485.6 L1383.8,571.1"/>
<path d="M1383.8,571.1 L1399.1,568.5 L1414.4,565.8 L1429.6,563.0 L1444.8,560.2 L1460.1,557.2 L1475.3,554.2 L1490.4,551.1 L1505.6,547.9 L1520.8,544.7"/>
<path d="M1414.0,565.8 L1417.5,585.5"/>
<path d="M1390.8,481.2 L1406.3,478.4 L1421.8,475.6 L1437.2,472.6 L1452.7,469.6 L1468.1,466.5 L1483.5,463.2 L1498.9,459.9 L1514.3,456.5"/>
<path d="M1390.8,481.2 L1389.0,471.0"/>
<path d="M1108.5,784.3 L1124.6,783.2 L1140.7,782.1 L1156.8,780.9 L1172.9,779.6 L1189.0,778.2 L1205.1,776.8 L1221.2,775.2 L1237.3,773.5 L1253.3,771.8 L1269.4,770.0 L1285.4,768.1 L1301.4,766.1 L1317.5,764.0 L1333.5,761.8"/>
<path d="M992.7,865.9 L1011.2,865.4 L1029.7,864.9 L1048.2,864.2 L1066.7,863.4 L1085.2,862.5"/>
<path d="M992.2,844.8 L993.5,904.7"/>
<path d="M1074.0,940.1 L1094.9,939.1 L1115.8,937.9 L1136.7,936.5"/>
<path d="M1206.9,931.0 L1224.0,929.4 L1241.1,927.7 L1258.2,925.9 L1275.3,924.1 L1292.3,922.1"/>
<path d="M972.1,732.0 L978.6,774.4 L978.0,841.6"/></g>
<rect x="67" y="1144" width="1559.5" height="130" fill="#fff" fill-opacity="0.9" stroke="#000" stroke-width="4"/>
<text x="82" y="1195.5" font-size="50" xml:space="preserve">Valid: 2025-05-30 12:00 UTC to 2025-05-31 12:00 UTC</text>
<text x="82" y="1248.5" font-size="50" xml:space="preserve">Run:   2025-05-27 00:00 UTC</text>
</g>
<rect x="30.2" y="97.5" width="1743.8" height="1211.5" fill="none" stroke="#000" stroke-width="3.2"/>
<g id="cbar"><rect x="149.0" y="1311" width="215.7" height="21" fill="#fff5eb"/><rect x="364.2" y="1311" width="215.7" height="21" fill="#fee6ce"/><rect x="579.4" y="1311" width="215.7" height="21" fill="#fdd0a2"/><rect x="794.6" y="1311" width="215.7" height="21" fill="#fdae6b"/><rect x="1009.8" y="1311" width="215.7" height="21" fill="#fd8d3c"/><rect x="1225.0" y="1311" width="215.7" height="21" fill="#f16913"/><rect x="1440.2" y="1311" width="215.7" height="21" fill="#d94801"/><polygon points="149.0,1311 74,1321.5 149.0,1332" fill="#ffffff"/><polygon points="1655.4,1311 1730,1321.5 1655.4,1332" fill="#8c2d04"/><polygon points="149.0,1311 74,1321.5 149.0,1332 1655.4,1332 1730,1321.5 1655.4,1311" fill="none" stroke="#000" stroke-width="3" stroke-linejoin="miter"/><line x1="149.0" y1="1332" x2="149.0" y2="1347" stroke="#000" stroke-width="3"/><line x1="364.2" y1="1332" x2="364.2" y2="1347" stroke="#000" stroke-width="3"/><line x1="579.4" y1="1332" x2="579.4" y2="1347" stroke="#000" stroke-width="3"/><line x1="794.6" y1="1332" x2="794.6" y2="1347" stroke="#000" stroke-width="3"/><line x1="1009.8" y1="1332" x2="1009.8" y2="1347" stroke="#000" stroke-width="3"/><line x1="1225.0" y1="1332" x2="1225.0" y2="1347" stroke="#000" stroke-width="3"/><line x1="1440.2" y1="1332" x2="1440.2" y2="1347" stroke="#000" stroke-width="3"/><line x1="1655.4" y1="1332" x2="1655.4" y2="1347" stroke="#000" stroke-width="3"/></g>
<g id="ticklabels"><text x="149.0" y="1397" text-anchor="middle" font-size="50">0.010</text><text x="364.2" y="1397" text-anchor="middle" font-size="50">0.025</text><text x="579.4" y="1397" text-anchor="middle" font-size="50">0.050</text><text x="794.6" y="1397" text-anchor="middle" font-size="50">0.100</text><text x="1009.8" y="1397" text-anchor="middle" font-size="50">0.500</text><text x="1225.0" y="1397" text-anchor="middle" font-size="50">1.000</text><text x="1440.2" y="1397" text-anchor="middle" font-size="50">2.000</text><text x="1655.4" y="1397" text-anchor="middle" font-size="50">3.000</text></g>
<text x="901.5" y="1461" text-anchor="middle" font-size="50">STP Daily Sum</text>
<g id="logo"><g transform="translate(10,1370) scale(0.07669)">
<polygon points="497,128 868,243 868,1307 497,1428 133,1307 133,243" fill="#c9c9c9"/>
<polygon points="497,150 850,258 850,880 150,1050 150,258" fill="#231f20"/>
<polygon points="150,1095 850,925 850,1292 497,1408 150,1292" fill="#dc0a0a"/>
<polygon points="150,1050 850,880 850,925 150,1095" fill="#ffffff"/>
<!-- tower -->
<polygon points="268,585 722,585 722,912 268,1022" fill="#ffffff"/>
<rect x="258" y="540" width="474" height="45" fill="#ffffff"/>
<polygon points="275,545 275,390 295,300 315,390 330,470 350,500 380,470 400,430 420,470 440,500 470,470 485,400 500,340 515,400 530,470 560,500 580,470 600,430 620,470 650,500 670,470 685,390 705,300 725,390 725,545" fill="#ffffff"/>
<rect x="336" y="590" width="10" height="420" fill="#231f20"/>
<rect x="655" y="590" width="10" height="340" fill="#231f20"/>
<g fill="#231f20">
<rect x="398" y="652" width="84" height="30"/><rect x="398" y="700" width="84" height="30"/><rect x="398" y="748" width="84" height="30"/>
<rect x="528" y="652" width="84" height="30"/><rect x="528" y="700" width="84" height="30"/><rect x="528" y="748" width="84" height="30"/>
<rect x="398" y="820" width="84" height="30"/><rect x="398" y="866" width="84" height="30"/><rect x="398" y="912" width="84" height="28"/>
<rect x="528" y="820" width="84" height="30"/><rect x="528" y="866" width="84" height="30"/><rect x="528" y="912" width="84" height="28"/>
</g>
<text x="505" y="1262" text-anchor="middle" font-size="212" font-weight="bold" style="font-family:'Liberation Sans',sans-serif;fill:#ffffff" textLength="545" lengthAdjust="spacingAndGlyphs">NIU</text>
</g>
</g>
</svg>
</body></html>
